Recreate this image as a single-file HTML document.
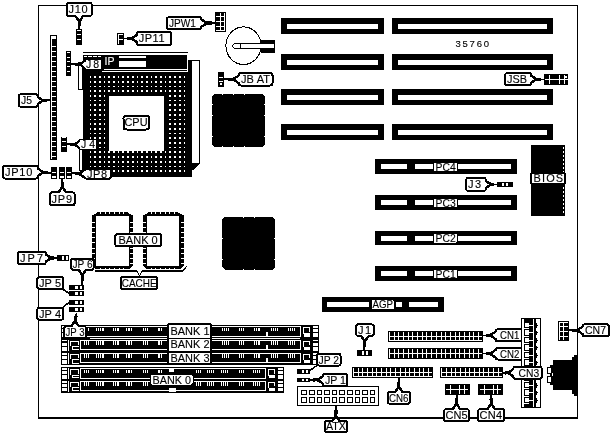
<!DOCTYPE html>
<html><head><meta charset="utf-8"><style>
html,body{margin:0;padding:0;background:#fff;}
svg{display:block;font-family:"Liberation Sans",sans-serif;filter:grayscale(100%);}
</style></head><body>
<svg width="611" height="436" viewBox="0 0 611 436" shape-rendering="crispEdges">
<rect x="0" y="0" width="611" height="436" fill="#fff"/>
<rect x="38" y="5" width="540" height="1" fill="#000"/>
<rect x="38" y="5" width="1" height="414" fill="#000"/>
<rect x="577" y="5" width="1" height="414" fill="#000"/>
<rect x="38" y="417" width="540" height="2" fill="#000"/>
<rect x="281" y="18" width="103" height="16" fill="#000"/>
<rect x="287" y="23.5" width="91" height="5" fill="#fff"/>
<rect x="392" y="18" width="161" height="16" fill="#000"/>
<rect x="398" y="23.5" width="149" height="5" fill="#fff"/>
<rect x="281" y="54" width="103" height="16" fill="#000"/>
<rect x="287" y="59.5" width="91" height="5" fill="#fff"/>
<rect x="392" y="54" width="161" height="16" fill="#000"/>
<rect x="398" y="59.5" width="149" height="5" fill="#fff"/>
<rect x="281" y="89" width="103" height="16" fill="#000"/>
<rect x="287" y="94.5" width="91" height="5" fill="#fff"/>
<rect x="392" y="89" width="161" height="16" fill="#000"/>
<rect x="398" y="94.5" width="149" height="5" fill="#fff"/>
<rect x="281" y="124" width="103" height="16" fill="#000"/>
<rect x="287" y="129.5" width="91" height="5" fill="#fff"/>
<rect x="392" y="124" width="161" height="16" fill="#000"/>
<rect x="398" y="129.5" width="149" height="5" fill="#fff"/>
<text x="455.5" y="47.2" font-size="9.5" fill="#000" stroke="#000" stroke-width="0.12" text-anchor="start" textLength="33.5" lengthAdjust="spacing">35760</text>
<rect x="83" y="52" width="105" height="1" fill="#000"/>
<rect x="83" y="54.5" width="104" height="17.5" fill="#000"/>
<rect x="83" y="72" width="109" height="105" fill="#000"/>
<rect x="188" y="60" width="4" height="12" fill="#000"/>
<rect x="89.5" y="76.2" width="1.7" height="1.7" fill="#fff"/>
<rect x="94.2" y="76.2" width="1.7" height="1.7" fill="#fff"/>
<rect x="98.9" y="76.2" width="1.7" height="1.7" fill="#fff"/>
<rect x="103.6" y="76.2" width="1.7" height="1.7" fill="#fff"/>
<rect x="108.2" y="76.2" width="1.7" height="1.7" fill="#fff"/>
<rect x="113.0" y="76.2" width="1.7" height="1.7" fill="#fff"/>
<rect x="117.7" y="76.2" width="1.7" height="1.7" fill="#fff"/>
<rect x="122.3" y="76.2" width="1.7" height="1.7" fill="#fff"/>
<rect x="127.1" y="76.2" width="1.7" height="1.7" fill="#fff"/>
<rect x="131.8" y="76.2" width="1.7" height="1.7" fill="#fff"/>
<rect x="136.5" y="76.2" width="1.7" height="1.7" fill="#fff"/>
<rect x="141.2" y="76.2" width="1.7" height="1.7" fill="#fff"/>
<rect x="145.8" y="76.2" width="1.7" height="1.7" fill="#fff"/>
<rect x="150.6" y="76.2" width="1.7" height="1.7" fill="#fff"/>
<rect x="155.2" y="76.2" width="1.7" height="1.7" fill="#fff"/>
<rect x="160.0" y="76.2" width="1.7" height="1.7" fill="#fff"/>
<rect x="164.7" y="76.2" width="1.7" height="1.7" fill="#fff"/>
<rect x="169.3" y="76.2" width="1.7" height="1.7" fill="#fff"/>
<rect x="174.1" y="76.2" width="1.7" height="1.7" fill="#fff"/>
<rect x="178.8" y="76.2" width="1.7" height="1.7" fill="#fff"/>
<rect x="183.5" y="76.2" width="1.7" height="1.7" fill="#fff"/>
<rect x="89.5" y="80.9" width="1.7" height="1.7" fill="#fff"/>
<rect x="94.2" y="80.9" width="1.7" height="1.7" fill="#fff"/>
<rect x="98.9" y="80.9" width="1.7" height="1.7" fill="#fff"/>
<rect x="103.6" y="80.9" width="1.7" height="1.7" fill="#fff"/>
<rect x="108.2" y="80.9" width="1.7" height="1.7" fill="#fff"/>
<rect x="113.0" y="80.9" width="1.7" height="1.7" fill="#fff"/>
<rect x="117.7" y="80.9" width="1.7" height="1.7" fill="#fff"/>
<rect x="122.3" y="80.9" width="1.7" height="1.7" fill="#fff"/>
<rect x="127.1" y="80.9" width="1.7" height="1.7" fill="#fff"/>
<rect x="131.8" y="80.9" width="1.7" height="1.7" fill="#fff"/>
<rect x="136.5" y="80.9" width="1.7" height="1.7" fill="#fff"/>
<rect x="141.2" y="80.9" width="1.7" height="1.7" fill="#fff"/>
<rect x="145.8" y="80.9" width="1.7" height="1.7" fill="#fff"/>
<rect x="150.6" y="80.9" width="1.7" height="1.7" fill="#fff"/>
<rect x="155.2" y="80.9" width="1.7" height="1.7" fill="#fff"/>
<rect x="160.0" y="80.9" width="1.7" height="1.7" fill="#fff"/>
<rect x="164.7" y="80.9" width="1.7" height="1.7" fill="#fff"/>
<rect x="169.3" y="80.9" width="1.7" height="1.7" fill="#fff"/>
<rect x="174.1" y="80.9" width="1.7" height="1.7" fill="#fff"/>
<rect x="178.8" y="80.9" width="1.7" height="1.7" fill="#fff"/>
<rect x="183.5" y="80.9" width="1.7" height="1.7" fill="#fff"/>
<rect x="89.5" y="85.6" width="1.7" height="1.7" fill="#fff"/>
<rect x="94.2" y="85.6" width="1.7" height="1.7" fill="#fff"/>
<rect x="98.9" y="85.6" width="1.7" height="1.7" fill="#fff"/>
<rect x="103.6" y="85.6" width="1.7" height="1.7" fill="#fff"/>
<rect x="108.2" y="85.6" width="1.7" height="1.7" fill="#fff"/>
<rect x="113.0" y="85.6" width="1.7" height="1.7" fill="#fff"/>
<rect x="117.7" y="85.6" width="1.7" height="1.7" fill="#fff"/>
<rect x="122.3" y="85.6" width="1.7" height="1.7" fill="#fff"/>
<rect x="127.1" y="85.6" width="1.7" height="1.7" fill="#fff"/>
<rect x="131.8" y="85.6" width="1.7" height="1.7" fill="#fff"/>
<rect x="136.5" y="85.6" width="1.7" height="1.7" fill="#fff"/>
<rect x="141.2" y="85.6" width="1.7" height="1.7" fill="#fff"/>
<rect x="145.8" y="85.6" width="1.7" height="1.7" fill="#fff"/>
<rect x="150.6" y="85.6" width="1.7" height="1.7" fill="#fff"/>
<rect x="155.2" y="85.6" width="1.7" height="1.7" fill="#fff"/>
<rect x="160.0" y="85.6" width="1.7" height="1.7" fill="#fff"/>
<rect x="164.7" y="85.6" width="1.7" height="1.7" fill="#fff"/>
<rect x="169.3" y="85.6" width="1.7" height="1.7" fill="#fff"/>
<rect x="174.1" y="85.6" width="1.7" height="1.7" fill="#fff"/>
<rect x="178.8" y="85.6" width="1.7" height="1.7" fill="#fff"/>
<rect x="183.5" y="85.6" width="1.7" height="1.7" fill="#fff"/>
<rect x="89.5" y="90.2" width="1.7" height="1.7" fill="#fff"/>
<rect x="94.2" y="90.2" width="1.7" height="1.7" fill="#fff"/>
<rect x="98.9" y="90.2" width="1.7" height="1.7" fill="#fff"/>
<rect x="103.6" y="90.2" width="1.7" height="1.7" fill="#fff"/>
<rect x="108.2" y="90.2" width="1.7" height="1.7" fill="#fff"/>
<rect x="113.0" y="90.2" width="1.7" height="1.7" fill="#fff"/>
<rect x="117.7" y="90.2" width="1.7" height="1.7" fill="#fff"/>
<rect x="122.3" y="90.2" width="1.7" height="1.7" fill="#fff"/>
<rect x="127.1" y="90.2" width="1.7" height="1.7" fill="#fff"/>
<rect x="131.8" y="90.2" width="1.7" height="1.7" fill="#fff"/>
<rect x="136.5" y="90.2" width="1.7" height="1.7" fill="#fff"/>
<rect x="141.2" y="90.2" width="1.7" height="1.7" fill="#fff"/>
<rect x="145.8" y="90.2" width="1.7" height="1.7" fill="#fff"/>
<rect x="150.6" y="90.2" width="1.7" height="1.7" fill="#fff"/>
<rect x="155.2" y="90.2" width="1.7" height="1.7" fill="#fff"/>
<rect x="160.0" y="90.2" width="1.7" height="1.7" fill="#fff"/>
<rect x="164.7" y="90.2" width="1.7" height="1.7" fill="#fff"/>
<rect x="169.3" y="90.2" width="1.7" height="1.7" fill="#fff"/>
<rect x="174.1" y="90.2" width="1.7" height="1.7" fill="#fff"/>
<rect x="178.8" y="90.2" width="1.7" height="1.7" fill="#fff"/>
<rect x="183.5" y="90.2" width="1.7" height="1.7" fill="#fff"/>
<rect x="89.5" y="95.0" width="1.7" height="1.7" fill="#fff"/>
<rect x="94.2" y="95.0" width="1.7" height="1.7" fill="#fff"/>
<rect x="98.9" y="95.0" width="1.7" height="1.7" fill="#fff"/>
<rect x="103.6" y="95.0" width="1.7" height="1.7" fill="#fff"/>
<rect x="169.3" y="95.0" width="1.7" height="1.7" fill="#fff"/>
<rect x="174.1" y="95.0" width="1.7" height="1.7" fill="#fff"/>
<rect x="178.8" y="95.0" width="1.7" height="1.7" fill="#fff"/>
<rect x="183.5" y="95.0" width="1.7" height="1.7" fill="#fff"/>
<rect x="89.5" y="99.7" width="1.7" height="1.7" fill="#fff"/>
<rect x="94.2" y="99.7" width="1.7" height="1.7" fill="#fff"/>
<rect x="98.9" y="99.7" width="1.7" height="1.7" fill="#fff"/>
<rect x="103.6" y="99.7" width="1.7" height="1.7" fill="#fff"/>
<rect x="169.3" y="99.7" width="1.7" height="1.7" fill="#fff"/>
<rect x="174.1" y="99.7" width="1.7" height="1.7" fill="#fff"/>
<rect x="178.8" y="99.7" width="1.7" height="1.7" fill="#fff"/>
<rect x="183.5" y="99.7" width="1.7" height="1.7" fill="#fff"/>
<rect x="89.5" y="104.4" width="1.7" height="1.7" fill="#fff"/>
<rect x="94.2" y="104.4" width="1.7" height="1.7" fill="#fff"/>
<rect x="98.9" y="104.4" width="1.7" height="1.7" fill="#fff"/>
<rect x="103.6" y="104.4" width="1.7" height="1.7" fill="#fff"/>
<rect x="169.3" y="104.4" width="1.7" height="1.7" fill="#fff"/>
<rect x="174.1" y="104.4" width="1.7" height="1.7" fill="#fff"/>
<rect x="178.8" y="104.4" width="1.7" height="1.7" fill="#fff"/>
<rect x="183.5" y="104.4" width="1.7" height="1.7" fill="#fff"/>
<rect x="89.5" y="109.1" width="1.7" height="1.7" fill="#fff"/>
<rect x="94.2" y="109.1" width="1.7" height="1.7" fill="#fff"/>
<rect x="98.9" y="109.1" width="1.7" height="1.7" fill="#fff"/>
<rect x="103.6" y="109.1" width="1.7" height="1.7" fill="#fff"/>
<rect x="169.3" y="109.1" width="1.7" height="1.7" fill="#fff"/>
<rect x="174.1" y="109.1" width="1.7" height="1.7" fill="#fff"/>
<rect x="178.8" y="109.1" width="1.7" height="1.7" fill="#fff"/>
<rect x="183.5" y="109.1" width="1.7" height="1.7" fill="#fff"/>
<rect x="89.5" y="113.8" width="1.7" height="1.7" fill="#fff"/>
<rect x="94.2" y="113.8" width="1.7" height="1.7" fill="#fff"/>
<rect x="98.9" y="113.8" width="1.7" height="1.7" fill="#fff"/>
<rect x="103.6" y="113.8" width="1.7" height="1.7" fill="#fff"/>
<rect x="169.3" y="113.8" width="1.7" height="1.7" fill="#fff"/>
<rect x="174.1" y="113.8" width="1.7" height="1.7" fill="#fff"/>
<rect x="178.8" y="113.8" width="1.7" height="1.7" fill="#fff"/>
<rect x="183.5" y="113.8" width="1.7" height="1.7" fill="#fff"/>
<rect x="89.5" y="118.5" width="1.7" height="1.7" fill="#fff"/>
<rect x="94.2" y="118.5" width="1.7" height="1.7" fill="#fff"/>
<rect x="98.9" y="118.5" width="1.7" height="1.7" fill="#fff"/>
<rect x="103.6" y="118.5" width="1.7" height="1.7" fill="#fff"/>
<rect x="169.3" y="118.5" width="1.7" height="1.7" fill="#fff"/>
<rect x="174.1" y="118.5" width="1.7" height="1.7" fill="#fff"/>
<rect x="178.8" y="118.5" width="1.7" height="1.7" fill="#fff"/>
<rect x="183.5" y="118.5" width="1.7" height="1.7" fill="#fff"/>
<rect x="89.5" y="123.2" width="1.7" height="1.7" fill="#fff"/>
<rect x="94.2" y="123.2" width="1.7" height="1.7" fill="#fff"/>
<rect x="98.9" y="123.2" width="1.7" height="1.7" fill="#fff"/>
<rect x="103.6" y="123.2" width="1.7" height="1.7" fill="#fff"/>
<rect x="169.3" y="123.2" width="1.7" height="1.7" fill="#fff"/>
<rect x="174.1" y="123.2" width="1.7" height="1.7" fill="#fff"/>
<rect x="178.8" y="123.2" width="1.7" height="1.7" fill="#fff"/>
<rect x="183.5" y="123.2" width="1.7" height="1.7" fill="#fff"/>
<rect x="89.5" y="127.8" width="1.7" height="1.7" fill="#fff"/>
<rect x="94.2" y="127.8" width="1.7" height="1.7" fill="#fff"/>
<rect x="98.9" y="127.8" width="1.7" height="1.7" fill="#fff"/>
<rect x="103.6" y="127.8" width="1.7" height="1.7" fill="#fff"/>
<rect x="169.3" y="127.8" width="1.7" height="1.7" fill="#fff"/>
<rect x="174.1" y="127.8" width="1.7" height="1.7" fill="#fff"/>
<rect x="178.8" y="127.8" width="1.7" height="1.7" fill="#fff"/>
<rect x="183.5" y="127.8" width="1.7" height="1.7" fill="#fff"/>
<rect x="89.5" y="132.6" width="1.7" height="1.7" fill="#fff"/>
<rect x="94.2" y="132.6" width="1.7" height="1.7" fill="#fff"/>
<rect x="98.9" y="132.6" width="1.7" height="1.7" fill="#fff"/>
<rect x="103.6" y="132.6" width="1.7" height="1.7" fill="#fff"/>
<rect x="169.3" y="132.6" width="1.7" height="1.7" fill="#fff"/>
<rect x="174.1" y="132.6" width="1.7" height="1.7" fill="#fff"/>
<rect x="178.8" y="132.6" width="1.7" height="1.7" fill="#fff"/>
<rect x="183.5" y="132.6" width="1.7" height="1.7" fill="#fff"/>
<rect x="89.5" y="137.2" width="1.7" height="1.7" fill="#fff"/>
<rect x="94.2" y="137.2" width="1.7" height="1.7" fill="#fff"/>
<rect x="98.9" y="137.2" width="1.7" height="1.7" fill="#fff"/>
<rect x="103.6" y="137.2" width="1.7" height="1.7" fill="#fff"/>
<rect x="169.3" y="137.2" width="1.7" height="1.7" fill="#fff"/>
<rect x="174.1" y="137.2" width="1.7" height="1.7" fill="#fff"/>
<rect x="178.8" y="137.2" width="1.7" height="1.7" fill="#fff"/>
<rect x="183.5" y="137.2" width="1.7" height="1.7" fill="#fff"/>
<rect x="89.5" y="142.0" width="1.7" height="1.7" fill="#fff"/>
<rect x="94.2" y="142.0" width="1.7" height="1.7" fill="#fff"/>
<rect x="98.9" y="142.0" width="1.7" height="1.7" fill="#fff"/>
<rect x="103.6" y="142.0" width="1.7" height="1.7" fill="#fff"/>
<rect x="169.3" y="142.0" width="1.7" height="1.7" fill="#fff"/>
<rect x="174.1" y="142.0" width="1.7" height="1.7" fill="#fff"/>
<rect x="178.8" y="142.0" width="1.7" height="1.7" fill="#fff"/>
<rect x="183.5" y="142.0" width="1.7" height="1.7" fill="#fff"/>
<rect x="89.5" y="146.7" width="1.7" height="1.7" fill="#fff"/>
<rect x="94.2" y="146.7" width="1.7" height="1.7" fill="#fff"/>
<rect x="98.9" y="146.7" width="1.7" height="1.7" fill="#fff"/>
<rect x="103.6" y="146.7" width="1.7" height="1.7" fill="#fff"/>
<rect x="169.3" y="146.7" width="1.7" height="1.7" fill="#fff"/>
<rect x="174.1" y="146.7" width="1.7" height="1.7" fill="#fff"/>
<rect x="178.8" y="146.7" width="1.7" height="1.7" fill="#fff"/>
<rect x="183.5" y="146.7" width="1.7" height="1.7" fill="#fff"/>
<rect x="89.5" y="151.3" width="1.7" height="1.7" fill="#fff"/>
<rect x="94.2" y="151.3" width="1.7" height="1.7" fill="#fff"/>
<rect x="98.9" y="151.3" width="1.7" height="1.7" fill="#fff"/>
<rect x="103.6" y="151.3" width="1.7" height="1.7" fill="#fff"/>
<rect x="108.2" y="151.3" width="1.7" height="1.7" fill="#fff"/>
<rect x="113.0" y="151.3" width="1.7" height="1.7" fill="#fff"/>
<rect x="117.7" y="151.3" width="1.7" height="1.7" fill="#fff"/>
<rect x="122.3" y="151.3" width="1.7" height="1.7" fill="#fff"/>
<rect x="127.1" y="151.3" width="1.7" height="1.7" fill="#fff"/>
<rect x="131.8" y="151.3" width="1.7" height="1.7" fill="#fff"/>
<rect x="136.5" y="151.3" width="1.7" height="1.7" fill="#fff"/>
<rect x="141.2" y="151.3" width="1.7" height="1.7" fill="#fff"/>
<rect x="145.8" y="151.3" width="1.7" height="1.7" fill="#fff"/>
<rect x="150.6" y="151.3" width="1.7" height="1.7" fill="#fff"/>
<rect x="155.2" y="151.3" width="1.7" height="1.7" fill="#fff"/>
<rect x="160.0" y="151.3" width="1.7" height="1.7" fill="#fff"/>
<rect x="164.7" y="151.3" width="1.7" height="1.7" fill="#fff"/>
<rect x="169.3" y="151.3" width="1.7" height="1.7" fill="#fff"/>
<rect x="174.1" y="151.3" width="1.7" height="1.7" fill="#fff"/>
<rect x="178.8" y="151.3" width="1.7" height="1.7" fill="#fff"/>
<rect x="183.5" y="151.3" width="1.7" height="1.7" fill="#fff"/>
<rect x="89.5" y="156.1" width="1.7" height="1.7" fill="#fff"/>
<rect x="94.2" y="156.1" width="1.7" height="1.7" fill="#fff"/>
<rect x="98.9" y="156.1" width="1.7" height="1.7" fill="#fff"/>
<rect x="103.6" y="156.1" width="1.7" height="1.7" fill="#fff"/>
<rect x="108.2" y="156.1" width="1.7" height="1.7" fill="#fff"/>
<rect x="113.0" y="156.1" width="1.7" height="1.7" fill="#fff"/>
<rect x="117.7" y="156.1" width="1.7" height="1.7" fill="#fff"/>
<rect x="122.3" y="156.1" width="1.7" height="1.7" fill="#fff"/>
<rect x="127.1" y="156.1" width="1.7" height="1.7" fill="#fff"/>
<rect x="131.8" y="156.1" width="1.7" height="1.7" fill="#fff"/>
<rect x="136.5" y="156.1" width="1.7" height="1.7" fill="#fff"/>
<rect x="141.2" y="156.1" width="1.7" height="1.7" fill="#fff"/>
<rect x="145.8" y="156.1" width="1.7" height="1.7" fill="#fff"/>
<rect x="150.6" y="156.1" width="1.7" height="1.7" fill="#fff"/>
<rect x="155.2" y="156.1" width="1.7" height="1.7" fill="#fff"/>
<rect x="160.0" y="156.1" width="1.7" height="1.7" fill="#fff"/>
<rect x="164.7" y="156.1" width="1.7" height="1.7" fill="#fff"/>
<rect x="169.3" y="156.1" width="1.7" height="1.7" fill="#fff"/>
<rect x="174.1" y="156.1" width="1.7" height="1.7" fill="#fff"/>
<rect x="178.8" y="156.1" width="1.7" height="1.7" fill="#fff"/>
<rect x="183.5" y="156.1" width="1.7" height="1.7" fill="#fff"/>
<rect x="89.5" y="160.8" width="1.7" height="1.7" fill="#fff"/>
<rect x="94.2" y="160.8" width="1.7" height="1.7" fill="#fff"/>
<rect x="98.9" y="160.8" width="1.7" height="1.7" fill="#fff"/>
<rect x="103.6" y="160.8" width="1.7" height="1.7" fill="#fff"/>
<rect x="108.2" y="160.8" width="1.7" height="1.7" fill="#fff"/>
<rect x="113.0" y="160.8" width="1.7" height="1.7" fill="#fff"/>
<rect x="117.7" y="160.8" width="1.7" height="1.7" fill="#fff"/>
<rect x="122.3" y="160.8" width="1.7" height="1.7" fill="#fff"/>
<rect x="127.1" y="160.8" width="1.7" height="1.7" fill="#fff"/>
<rect x="131.8" y="160.8" width="1.7" height="1.7" fill="#fff"/>
<rect x="136.5" y="160.8" width="1.7" height="1.7" fill="#fff"/>
<rect x="141.2" y="160.8" width="1.7" height="1.7" fill="#fff"/>
<rect x="145.8" y="160.8" width="1.7" height="1.7" fill="#fff"/>
<rect x="150.6" y="160.8" width="1.7" height="1.7" fill="#fff"/>
<rect x="155.2" y="160.8" width="1.7" height="1.7" fill="#fff"/>
<rect x="160.0" y="160.8" width="1.7" height="1.7" fill="#fff"/>
<rect x="164.7" y="160.8" width="1.7" height="1.7" fill="#fff"/>
<rect x="169.3" y="160.8" width="1.7" height="1.7" fill="#fff"/>
<rect x="174.1" y="160.8" width="1.7" height="1.7" fill="#fff"/>
<rect x="178.8" y="160.8" width="1.7" height="1.7" fill="#fff"/>
<rect x="183.5" y="160.8" width="1.7" height="1.7" fill="#fff"/>
<rect x="89.5" y="165.5" width="1.7" height="1.7" fill="#fff"/>
<rect x="94.2" y="165.5" width="1.7" height="1.7" fill="#fff"/>
<rect x="98.9" y="165.5" width="1.7" height="1.7" fill="#fff"/>
<rect x="103.6" y="165.5" width="1.7" height="1.7" fill="#fff"/>
<rect x="108.2" y="165.5" width="1.7" height="1.7" fill="#fff"/>
<rect x="113.0" y="165.5" width="1.7" height="1.7" fill="#fff"/>
<rect x="117.7" y="165.5" width="1.7" height="1.7" fill="#fff"/>
<rect x="122.3" y="165.5" width="1.7" height="1.7" fill="#fff"/>
<rect x="127.1" y="165.5" width="1.7" height="1.7" fill="#fff"/>
<rect x="131.8" y="165.5" width="1.7" height="1.7" fill="#fff"/>
<rect x="136.5" y="165.5" width="1.7" height="1.7" fill="#fff"/>
<rect x="141.2" y="165.5" width="1.7" height="1.7" fill="#fff"/>
<rect x="145.8" y="165.5" width="1.7" height="1.7" fill="#fff"/>
<rect x="150.6" y="165.5" width="1.7" height="1.7" fill="#fff"/>
<rect x="155.2" y="165.5" width="1.7" height="1.7" fill="#fff"/>
<rect x="160.0" y="165.5" width="1.7" height="1.7" fill="#fff"/>
<rect x="164.7" y="165.5" width="1.7" height="1.7" fill="#fff"/>
<rect x="169.3" y="165.5" width="1.7" height="1.7" fill="#fff"/>
<rect x="174.1" y="165.5" width="1.7" height="1.7" fill="#fff"/>
<rect x="178.8" y="165.5" width="1.7" height="1.7" fill="#fff"/>
<rect x="183.5" y="165.5" width="1.7" height="1.7" fill="#fff"/>
<rect x="89.5" y="170.2" width="1.7" height="1.7" fill="#fff"/>
<rect x="94.2" y="170.2" width="1.7" height="1.7" fill="#fff"/>
<rect x="98.9" y="170.2" width="1.7" height="1.7" fill="#fff"/>
<rect x="103.6" y="170.2" width="1.7" height="1.7" fill="#fff"/>
<rect x="108.2" y="170.2" width="1.7" height="1.7" fill="#fff"/>
<rect x="113.0" y="170.2" width="1.7" height="1.7" fill="#fff"/>
<rect x="117.7" y="170.2" width="1.7" height="1.7" fill="#fff"/>
<rect x="122.3" y="170.2" width="1.7" height="1.7" fill="#fff"/>
<rect x="127.1" y="170.2" width="1.7" height="1.7" fill="#fff"/>
<rect x="131.8" y="170.2" width="1.7" height="1.7" fill="#fff"/>
<rect x="136.5" y="170.2" width="1.7" height="1.7" fill="#fff"/>
<rect x="141.2" y="170.2" width="1.7" height="1.7" fill="#fff"/>
<rect x="145.8" y="170.2" width="1.7" height="1.7" fill="#fff"/>
<rect x="150.6" y="170.2" width="1.7" height="1.7" fill="#fff"/>
<rect x="155.2" y="170.2" width="1.7" height="1.7" fill="#fff"/>
<rect x="160.0" y="170.2" width="1.7" height="1.7" fill="#fff"/>
<rect x="164.7" y="170.2" width="1.7" height="1.7" fill="#fff"/>
<rect x="169.3" y="170.2" width="1.7" height="1.7" fill="#fff"/>
<rect x="174.1" y="170.2" width="1.7" height="1.7" fill="#fff"/>
<rect x="178.8" y="170.2" width="1.7" height="1.7" fill="#fff"/>
<rect x="183.5" y="170.2" width="1.7" height="1.7" fill="#fff"/>
<rect x="109" y="96" width="55" height="55" fill="#fff"/>
<rect x="104" y="69" width="83" height="1" fill="#fff"/>
<rect x="102" y="71" width="85" height="1" fill="#fff"/>
<rect x="119" y="56" width="27" height="2" fill="#fff"/>
<rect x="119" y="60.5" width="27" height="6" fill="#fff"/>
<text x="104.5" y="64.5" font-size="11" fill="#fff" stroke="#fff" stroke-width="0.12" text-anchor="start" textLength="10" lengthAdjust="spacingAndGlyphs">IP</text>
<rect x="84" y="56" width="17" height="1" fill="#fff"/>
<rect x="87" y="55" width="1" height="2.5" fill="#000"/>
<rect x="92" y="55" width="1" height="2.5" fill="#000"/>
<rect x="97" y="55" width="1" height="2.5" fill="#000"/>
<path d="M191,60 H199.5 V164 L194,169.5 H191 Z" fill="#000"/>
<path d="M192,61 H198.5 V163 H192 Z" fill="#fff"/>
<rect x="78" y="62" width="4.6" height="27.5" fill="#000"/>
<rect x="79" y="63" width="2.6" height="25.5" fill="#fff"/>
<rect x="78.8" y="146" width="3.8" height="24.5" fill="#000"/>
<rect x="79.8" y="147" width="2" height="22.5" fill="#fff"/>
<rect x="123.5" y="115.5" width="25.5" height="14" rx="3" fill="#fff" stroke="#000" stroke-width="2"/>
<text x="124.5" y="126.4" font-size="11" fill="#000" stroke="#000" stroke-width="0.12" text-anchor="start" textLength="23" lengthAdjust="spacingAndGlyphs">CPU</text>
<rect x="76" y="29" width="6" height="15.5" fill="#000"/>
<rect x="77" y="29.6" width="4" height="1.4" fill="#fff"/>
<rect x="77" y="33.6" width="4" height="1.4" fill="#fff"/>
<rect x="77" y="39" width="4" height="1.4" fill="#fff"/>
<rect x="50" y="35" width="7" height="125" fill="#000"/>
<rect x="51" y="36" width="1" height="123" fill="#fff"/>
<rect x="52" y="36" width="4" height="2.5" fill="#fff"/>
<rect x="51.8" y="46.2" width="4.2" height="1" fill="#fff"/>
<rect x="51.8" y="51.2" width="4.2" height="1" fill="#fff"/>
<rect x="51.8" y="56.2" width="4.2" height="1" fill="#fff"/>
<rect x="51.8" y="61.2" width="4.2" height="1" fill="#fff"/>
<rect x="51.8" y="66.2" width="4.2" height="1" fill="#fff"/>
<rect x="51.8" y="71.2" width="4.2" height="1" fill="#fff"/>
<rect x="51.8" y="76.2" width="4.2" height="1" fill="#fff"/>
<rect x="51.8" y="81.2" width="4.2" height="1" fill="#fff"/>
<rect x="51.8" y="86.2" width="4.2" height="1" fill="#fff"/>
<rect x="51.8" y="91.2" width="4.2" height="1" fill="#fff"/>
<rect x="51.8" y="96.2" width="4.2" height="1" fill="#fff"/>
<rect x="51.8" y="101.2" width="4.2" height="1" fill="#fff"/>
<rect x="51.8" y="106.2" width="4.2" height="1" fill="#fff"/>
<rect x="51.8" y="111.2" width="4.2" height="1" fill="#fff"/>
<rect x="51.8" y="116.2" width="4.2" height="1" fill="#fff"/>
<rect x="51.8" y="121.2" width="4.2" height="1" fill="#fff"/>
<rect x="51.8" y="126.2" width="4.2" height="1" fill="#fff"/>
<rect x="51.8" y="131.2" width="4.2" height="1" fill="#fff"/>
<rect x="51.8" y="136.2" width="4.2" height="1" fill="#fff"/>
<rect x="51.8" y="141.2" width="4.2" height="1" fill="#fff"/>
<rect x="51.8" y="146.2" width="4.2" height="1" fill="#fff"/>
<rect x="51.8" y="151.2" width="4.2" height="1" fill="#fff"/>
<rect x="51.8" y="156.2" width="4.2" height="1" fill="#fff"/>
<rect x="66" y="51" width="5" height="25" fill="#000"/>
<rect x="67" y="52" width="3" height="1" fill="#fff"/>
<rect x="67" y="56.65" width="3" height="1" fill="#fff"/>
<rect x="67" y="61.3" width="3" height="1" fill="#fff"/>
<rect x="67" y="65.95" width="3" height="1" fill="#fff"/>
<rect x="67" y="70.6" width="3" height="1" fill="#fff"/>
<rect x="61" y="136.5" width="6" height="15" fill="#000"/>
<rect x="62" y="137" width="4" height="1" fill="#fff"/>
<rect x="62" y="141.3" width="4" height="1" fill="#fff"/>
<rect x="62" y="146.3" width="4" height="1" fill="#fff"/>
<line x1="79.25" y1="21.2" x2="79" y2="29" stroke="#000" stroke-width="1.7"/>
<line x1="79.27" y1="20.7" x2="79.1" y2="25.88" stroke="#000" stroke-width="3.2"/>
<path d="M74.25,16.2 L77.65,21.7 L80.85,21.7 L84.25,16.2 Z" fill="#000"/>
<rect x="66.5" y="2.7" width="25.5" height="13.5" rx="3" fill="#fff" stroke="#000" stroke-width="2"/>
<path d="M76.25,15.2 L79.25,19.4 L82.25,15.2 Z" fill="#fff"/>
<text x="68.6" y="13.35" font-size="11" fill="#000" stroke="#000" stroke-width="0.12" text-anchor="start" textLength="18.9" lengthAdjust="spacing">J10</text>
<line x1="42.5" y1="100.55" x2="50" y2="100.2" stroke="#000" stroke-width="1.7"/>
<line x1="42" y1="100.57" x2="47" y2="100.34" stroke="#000" stroke-width="3.2"/>
<path d="M37.5,105.55 L43,102.15 L43,98.95 L37.5,95.55 Z" fill="#000"/>
<rect x="19" y="94.3" width="18.5" height="12.5" rx="2" fill="#fff" stroke="#000" stroke-width="2"/>
<path d="M36.5,103.55 L40.7,100.55 L36.5,97.55 Z" fill="#fff"/>
<text x="21" y="104.45" font-size="11" fill="#000" stroke="#000" stroke-width="0.12" text-anchor="start" textLength="11" lengthAdjust="spacingAndGlyphs">J5</text>
<rect x="84" y="59" width="18" height="11" fill="#fff"/>
<rect x="84" y="59" width="1" height="11" fill="#000"/>
<line x1="80.5" y1="64.5" x2="71" y2="64" stroke="#000" stroke-width="1.7"/>
<line x1="81" y1="64.53" x2="74.8" y2="64.2" stroke="#000" stroke-width="3.2"/>
<path d="M85.5,59.5 L80,62.9 L80,66.1 L85.5,69.5 Z" fill="#000"/>
<rect x="85" y="59.5" width="16.5" height="10" rx="1" fill="#fff" stroke="#000" stroke-width="1"/>
<path d="M85.5,61.5 L82.3,64.5 L85.5,67.5 Z" fill="#fff"/>
<text x="86" y="68.4" font-size="10.5" fill="#000" stroke="#000" stroke-width="0.12" text-anchor="start" textLength="13" lengthAdjust="spacing">J8</text>
<line x1="75" y1="144.5" x2="67" y2="144" stroke="#000" stroke-width="1.7"/>
<line x1="75.5" y1="144.53" x2="70.2" y2="144.2" stroke="#000" stroke-width="3.2"/>
<path d="M80,139.5 L74.5,142.9 L74.5,146.1 L80,149.5 Z" fill="#000"/>
<rect x="79.5" y="139.5" width="17" height="10" rx="1" fill="#fff" stroke="#000" stroke-width="1"/>
<path d="M80,141.5 L76.8,144.5 L80,147.5 Z" fill="#fff"/>
<text x="81" y="148.4" font-size="10.5" fill="#000" stroke="#000" stroke-width="0.12" text-anchor="start" textLength="14" lengthAdjust="spacing">J4</text>
<rect x="117" y="33" width="7" height="11.7" fill="#000"/>
<rect x="118" y="34" width="1" height="9.6" fill="#fff"/>
<rect x="118" y="34" width="4.8" height="1" fill="#fff"/>
<rect x="119" y="39" width="3.8" height="1" fill="#fff"/>
<line x1="132" y1="38.45" x2="124" y2="38.5" stroke="#000" stroke-width="1.7"/>
<line x1="132.5" y1="38.45" x2="127.2" y2="38.48" stroke="#000" stroke-width="3.2"/>
<path d="M137,33.45 L131.5,36.85 L131.5,40.05 L137,43.45 Z" fill="#000"/>
<rect x="137" y="32.1" width="33.8" height="12.7" rx="1" fill="#fff" stroke="#000" stroke-width="2"/>
<path d="M138,35.45 L133.8,38.45 L138,41.45 Z" fill="#fff"/>
<text x="138.8" y="42.35" font-size="11" fill="#000" stroke="#000" stroke-width="0.12" text-anchor="start" textLength="25.7" lengthAdjust="spacing">JP11</text>
<rect x="215" y="12" width="11" height="19.8" fill="#000"/>
<rect x="220" y="13" width="1" height="18" fill="#fff"/>
<rect x="224" y="13" width="1" height="18" fill="#fff"/>
<rect x="216" y="16" width="9" height="0.8" fill="#fff"/>
<rect x="216" y="21.2" width="9" height="0.8" fill="#fff"/>
<rect x="216" y="26.3" width="9" height="0.8" fill="#fff"/>
<rect x="216" y="30.2" width="9" height="0.8" fill="#fff"/>
<line x1="206.4" y1="23.1" x2="215" y2="23" stroke="#000" stroke-width="1.7"/>
<line x1="205.9" y1="23.11" x2="211.56" y2="23.04" stroke="#000" stroke-width="3.2"/>
<path d="M201.4,28.1 L206.9,24.7 L206.9,21.5 L201.4,18.1 Z" fill="#000"/>
<rect x="167.2" y="17.4" width="34.2" height="11.4" rx="1" fill="#fff" stroke="#000" stroke-width="2"/>
<path d="M200.4,26.1 L204.6,23.1 L200.4,20.1 Z" fill="#fff"/>
<text x="169" y="27" font-size="11" fill="#000" stroke="#000" stroke-width="0.12" text-anchor="start" textLength="27" lengthAdjust="spacingAndGlyphs">JPW1</text>
<rect x="218" y="72" width="6" height="14.8" fill="#000"/>
<rect x="219" y="77" width="4" height="1" fill="#fff"/>
<rect x="219" y="81" width="4" height="1" fill="#fff"/>
<rect x="220" y="83" width="2" height="1.6" fill="#fff"/>
<line x1="233.5" y1="79.3" x2="224" y2="79" stroke="#000" stroke-width="1.7"/>
<line x1="234" y1="79.32" x2="227.8" y2="79.12" stroke="#000" stroke-width="3.2"/>
<path d="M238.5,74.3 L233,77.7 L233,80.9 L238.5,84.3 Z" fill="#000"/>
<rect x="238.5" y="73" width="34.1" height="12.6" rx="3" fill="#fff" stroke="#000" stroke-width="2"/>
<path d="M239.5,76.3 L235.3,79.3 L239.5,82.3 Z" fill="#fff"/>
<text x="241" y="83.2" font-size="11" fill="#000" stroke="#000" stroke-width="0.12" text-anchor="start" textLength="29" lengthAdjust="spacing">JB AT</text>
<ellipse cx="243.5" cy="45.7" rx="17.6" ry="18.8" fill="none" stroke="#000" stroke-width="1"/>
<path d="M261,40 H274.7 V53.1 H261 Z" fill="#000"/>
<path d="M274,43.6 H236 Q232.6,43.6 232.6,46 Q232.6,48.4 236,48.4 H274 Z" fill="#fff" stroke="#000" stroke-width="1"/>
<line x1="240.2" y1="43.6" x2="240.2" y2="48.4" stroke="#000" stroke-width="1"/>
<path d="M214.7,93.6 H262.4 L265.4,96.6 V144 L262.4,147 H214.7 L211.7,144 V96.6 Z" fill="#000"/>
<rect x="222.44" y="93.6" width="0.6" height="1" fill="#fff"/>
<rect x="222.44" y="146" width="0.6" height="1" fill="#fff"/>
<rect x="211.7" y="104.28" width="1" height="0.6" fill="#fff"/>
<rect x="264.4" y="104.28" width="1" height="0.6" fill="#fff"/>
<rect x="233.18" y="93.6" width="0.6" height="1" fill="#fff"/>
<rect x="233.18" y="146" width="0.6" height="1" fill="#fff"/>
<rect x="211.7" y="114.96" width="1" height="0.6" fill="#fff"/>
<rect x="264.4" y="114.96" width="1" height="0.6" fill="#fff"/>
<rect x="243.92" y="93.6" width="0.6" height="1" fill="#fff"/>
<rect x="243.92" y="146" width="0.6" height="1" fill="#fff"/>
<rect x="211.7" y="125.64" width="1" height="0.6" fill="#fff"/>
<rect x="264.4" y="125.64" width="1" height="0.6" fill="#fff"/>
<rect x="254.66" y="93.6" width="0.6" height="1" fill="#fff"/>
<rect x="254.66" y="146" width="0.6" height="1" fill="#fff"/>
<rect x="211.7" y="136.32" width="1" height="0.6" fill="#fff"/>
<rect x="264.4" y="136.32" width="1" height="0.6" fill="#fff"/>
<path d="M225,216.9 H272.2 L275.2,219.9 V267 L272.2,270 H225 L222,267 V219.9 Z" fill="#000"/>
<rect x="232.64" y="216.9" width="0.6" height="1" fill="#fff"/>
<rect x="232.64" y="269" width="0.6" height="1" fill="#fff"/>
<rect x="222" y="227.52" width="1" height="0.6" fill="#fff"/>
<rect x="274.2" y="227.52" width="1" height="0.6" fill="#fff"/>
<rect x="243.28" y="216.9" width="0.6" height="1" fill="#fff"/>
<rect x="243.28" y="269" width="0.6" height="1" fill="#fff"/>
<rect x="222" y="238.14" width="1" height="0.6" fill="#fff"/>
<rect x="274.2" y="238.14" width="1" height="0.6" fill="#fff"/>
<rect x="253.92" y="216.9" width="0.6" height="1" fill="#fff"/>
<rect x="253.92" y="269" width="0.6" height="1" fill="#fff"/>
<rect x="222" y="248.76" width="1" height="0.6" fill="#fff"/>
<rect x="274.2" y="248.76" width="1" height="0.6" fill="#fff"/>
<rect x="264.56" y="216.9" width="0.6" height="1" fill="#fff"/>
<rect x="264.56" y="269" width="0.6" height="1" fill="#fff"/>
<rect x="222" y="259.38" width="1" height="0.6" fill="#fff"/>
<rect x="274.2" y="259.38" width="1" height="0.6" fill="#fff"/>
<rect x="544.2" y="74.1" width="23.9" height="10.5" fill="#000"/>
<rect x="545" y="79" width="22.5" height="1" fill="#fff"/>
<rect x="549" y="75.4" width="1" height="8.3" fill="#fff"/>
<rect x="559" y="75.4" width="1" height="8.3" fill="#fff"/>
<rect x="563.8" y="75.4" width="1" height="8.3" fill="#fff"/>
<rect x="565" y="76" width="2" height="2" fill="#fff"/>
<line x1="535.9" y1="79.25" x2="544" y2="79.5" stroke="#000" stroke-width="1.7"/>
<line x1="535.4" y1="79.23" x2="540.76" y2="79.4" stroke="#000" stroke-width="3.2"/>
<path d="M530.9,84.25 L536.4,80.85 L536.4,77.65 L530.9,74.25 Z" fill="#000"/>
<rect x="505.4" y="73.3" width="25.5" height="11.9" rx="1" fill="#fff" stroke="#000" stroke-width="2"/>
<path d="M529.9,82.25 L534.1,79.25 L529.9,76.25 Z" fill="#fff"/>
<text x="507" y="83.15" font-size="11" fill="#000" stroke="#000" stroke-width="0.12" text-anchor="start" textLength="20" lengthAdjust="spacingAndGlyphs">JSB</text>
<rect x="375" y="159" width="142" height="14.6" fill="#000"/>
<rect x="380.8" y="164" width="26.2" height="5" fill="#fff"/>
<rect x="415" y="164" width="19" height="5" fill="#fff"/>
<rect x="458" y="164" width="53" height="5" fill="#fff"/>
<rect x="433.9" y="162" width="23.2" height="9.7" rx="1" fill="#fff" stroke="#000" stroke-width="1"/>
<text x="435.5" y="170.95" font-size="11.5" fill="#000" stroke="#000" stroke-width="0.12" text-anchor="start" textLength="20.2" lengthAdjust="spacingAndGlyphs">PC4</text>
<rect x="375" y="195" width="142" height="14.6" fill="#000"/>
<rect x="380.8" y="200" width="26.2" height="5" fill="#fff"/>
<rect x="415" y="200" width="19" height="5" fill="#fff"/>
<rect x="458" y="200" width="53" height="5" fill="#fff"/>
<rect x="433.9" y="198" width="23.2" height="9.7" rx="1" fill="#fff" stroke="#000" stroke-width="1"/>
<text x="435.5" y="206.95" font-size="11.5" fill="#000" stroke="#000" stroke-width="0.12" text-anchor="start" textLength="20.2" lengthAdjust="spacingAndGlyphs">PC3</text>
<rect x="375" y="230.5" width="142" height="14.6" fill="#000"/>
<rect x="380.8" y="235.5" width="26.2" height="5" fill="#fff"/>
<rect x="415" y="235.5" width="19" height="5" fill="#fff"/>
<rect x="458" y="235.5" width="53" height="5" fill="#fff"/>
<rect x="433.9" y="233.5" width="23.2" height="9.7" rx="1" fill="#fff" stroke="#000" stroke-width="1"/>
<text x="435.5" y="242.45" font-size="11.5" fill="#000" stroke="#000" stroke-width="0.12" text-anchor="start" textLength="20.2" lengthAdjust="spacingAndGlyphs">PC2</text>
<rect x="375" y="266" width="142" height="14.6" fill="#000"/>
<rect x="380.8" y="271" width="26.2" height="5" fill="#fff"/>
<rect x="415" y="271" width="19" height="5" fill="#fff"/>
<rect x="458" y="271" width="53" height="5" fill="#fff"/>
<rect x="433.9" y="269" width="23.2" height="9.7" rx="1" fill="#fff" stroke="#000" stroke-width="1"/>
<text x="435.5" y="277.95" font-size="11.5" fill="#000" stroke="#000" stroke-width="0.12" text-anchor="start" textLength="20.2" lengthAdjust="spacingAndGlyphs">PC1</text>
<rect x="497.2" y="182" width="15.6" height="5.4" fill="#000"/>
<rect x="502" y="183" width="2" height="3.4" fill="#fff"/>
<rect x="506" y="183" width="2" height="3.4" fill="#fff"/>
<line x1="490.6" y1="184.45" x2="497" y2="184.5" stroke="#000" stroke-width="1.7"/>
<line x1="490.1" y1="184.45" x2="494.44" y2="184.48" stroke="#000" stroke-width="3.2"/>
<path d="M485.6,189.45 L491.1,186.05 L491.1,182.85 L485.6,179.45 Z" fill="#000"/>
<rect x="466.3" y="178.2" width="19.3" height="12.5" rx="1" fill="#fff" stroke="#000" stroke-width="2"/>
<path d="M484.6,187.45 L488.8,184.45 L484.6,181.45 Z" fill="#fff"/>
<text x="468" y="188.35" font-size="11" fill="#000" stroke="#000" stroke-width="0.12" text-anchor="start" textLength="13" lengthAdjust="spacing">J3</text>
<rect x="531.3" y="145.3" width="33.6" height="70.4" fill="#000"/>
<rect x="562.5" y="147" width="1" height="2" fill="#fff"/>
<rect x="562.5" y="151" width="1" height="2" fill="#fff"/>
<rect x="562.5" y="155" width="1" height="2" fill="#fff"/>
<rect x="562.5" y="159" width="1" height="2" fill="#fff"/>
<rect x="562.5" y="163" width="1" height="2" fill="#fff"/>
<rect x="562.5" y="167" width="1" height="2" fill="#fff"/>
<rect x="562.5" y="171" width="1" height="2" fill="#fff"/>
<rect x="562.5" y="175" width="1" height="2" fill="#fff"/>
<rect x="562.5" y="179" width="1" height="2" fill="#fff"/>
<rect x="562.5" y="183" width="1" height="2" fill="#fff"/>
<rect x="562.5" y="187" width="1" height="2" fill="#fff"/>
<rect x="562.5" y="191" width="1" height="2" fill="#fff"/>
<rect x="562.5" y="195" width="1" height="2" fill="#fff"/>
<rect x="562.5" y="199" width="1" height="2" fill="#fff"/>
<rect x="562.5" y="203" width="1" height="2" fill="#fff"/>
<rect x="562.5" y="207" width="1" height="2" fill="#fff"/>
<rect x="562.5" y="211" width="1" height="2" fill="#fff"/>
<rect x="531.2" y="172.5" width="33.5" height="11.8" rx="1" fill="#fff" stroke="#000" stroke-width="2"/>
<text x="533.4" y="182.3" font-size="11" fill="#000" stroke="#000" stroke-width="0.12" text-anchor="start" textLength="29.8" lengthAdjust="spacing">BIOS</text>
<path d="M97.9,211.9 H127.0 L129.5,213.9 L133,215.4 V265.6 L129.5,269.1 H95.4 L91.9,265.6 V215.4 L95.4,213.9 Z" fill="#000"/>
<rect x="99.9" y="211.9" width="1" height="1.6" fill="#fff"/>
<rect x="99.9" y="268.1" width="1" height="1" fill="#fff"/>
<rect x="104.6" y="211.9" width="1" height="1.6" fill="#fff"/>
<rect x="104.6" y="268.1" width="1" height="1" fill="#fff"/>
<rect x="109.3" y="211.9" width="1" height="1.6" fill="#fff"/>
<rect x="109.3" y="268.1" width="1" height="1" fill="#fff"/>
<rect x="114" y="211.9" width="1" height="1.6" fill="#fff"/>
<rect x="114" y="268.1" width="1" height="1" fill="#fff"/>
<rect x="118.7" y="211.9" width="1" height="1.6" fill="#fff"/>
<rect x="118.7" y="268.1" width="1" height="1" fill="#fff"/>
<rect x="123.4" y="211.9" width="1" height="1.6" fill="#fff"/>
<rect x="123.4" y="268.1" width="1" height="1" fill="#fff"/>
<rect x="91.9" y="221.6" width="3" height="1" fill="#fff"/>
<rect x="130" y="221.6" width="3" height="1" fill="#fff"/>
<rect x="91.9" y="226.8" width="3" height="1" fill="#fff"/>
<rect x="130" y="226.8" width="3" height="1" fill="#fff"/>
<rect x="91.9" y="232" width="3" height="1" fill="#fff"/>
<rect x="130" y="232" width="3" height="1" fill="#fff"/>
<rect x="91.9" y="237.2" width="3" height="1" fill="#fff"/>
<rect x="130" y="237.2" width="3" height="1" fill="#fff"/>
<rect x="91.9" y="242.4" width="3" height="1" fill="#fff"/>
<rect x="130" y="242.4" width="3" height="1" fill="#fff"/>
<rect x="91.9" y="247.6" width="3" height="1" fill="#fff"/>
<rect x="130" y="247.6" width="3" height="1" fill="#fff"/>
<rect x="91.9" y="252.8" width="3" height="1" fill="#fff"/>
<rect x="130" y="252.8" width="3" height="1" fill="#fff"/>
<rect x="91.9" y="258" width="3" height="1" fill="#fff"/>
<rect x="130" y="258" width="3" height="1" fill="#fff"/>
<rect x="91.9" y="263.2" width="3" height="1" fill="#fff"/>
<rect x="130" y="263.2" width="3" height="1" fill="#fff"/>
<rect x="96.4" y="216.1" width="32.1" height="49.5" fill="#fff"/>
<path d="M148.6,211.9 H177.7 L180.2,213.9 L183.7,215.4 V265.6 L180.2,269.1 H146.1 L142.6,265.6 V215.4 L146.1,213.9 Z" fill="#000"/>
<rect x="150.6" y="211.9" width="1" height="1.6" fill="#fff"/>
<rect x="150.6" y="268.1" width="1" height="1" fill="#fff"/>
<rect x="155.3" y="211.9" width="1" height="1.6" fill="#fff"/>
<rect x="155.3" y="268.1" width="1" height="1" fill="#fff"/>
<rect x="160" y="211.9" width="1" height="1.6" fill="#fff"/>
<rect x="160" y="268.1" width="1" height="1" fill="#fff"/>
<rect x="164.7" y="211.9" width="1" height="1.6" fill="#fff"/>
<rect x="164.7" y="268.1" width="1" height="1" fill="#fff"/>
<rect x="169.4" y="211.9" width="1" height="1.6" fill="#fff"/>
<rect x="169.4" y="268.1" width="1" height="1" fill="#fff"/>
<rect x="174.1" y="211.9" width="1" height="1.6" fill="#fff"/>
<rect x="174.1" y="268.1" width="1" height="1" fill="#fff"/>
<rect x="142.6" y="221.6" width="3" height="1" fill="#fff"/>
<rect x="180.7" y="221.6" width="3" height="1" fill="#fff"/>
<rect x="142.6" y="226.8" width="3" height="1" fill="#fff"/>
<rect x="180.7" y="226.8" width="3" height="1" fill="#fff"/>
<rect x="142.6" y="232" width="3" height="1" fill="#fff"/>
<rect x="180.7" y="232" width="3" height="1" fill="#fff"/>
<rect x="142.6" y="237.2" width="3" height="1" fill="#fff"/>
<rect x="180.7" y="237.2" width="3" height="1" fill="#fff"/>
<rect x="142.6" y="242.4" width="3" height="1" fill="#fff"/>
<rect x="180.7" y="242.4" width="3" height="1" fill="#fff"/>
<rect x="142.6" y="247.6" width="3" height="1" fill="#fff"/>
<rect x="180.7" y="247.6" width="3" height="1" fill="#fff"/>
<rect x="142.6" y="252.8" width="3" height="1" fill="#fff"/>
<rect x="180.7" y="252.8" width="3" height="1" fill="#fff"/>
<rect x="142.6" y="258" width="3" height="1" fill="#fff"/>
<rect x="180.7" y="258" width="3" height="1" fill="#fff"/>
<rect x="142.6" y="263.2" width="3" height="1" fill="#fff"/>
<rect x="180.7" y="263.2" width="3" height="1" fill="#fff"/>
<rect x="147.1" y="216.1" width="32.1" height="49.5" fill="#fff"/>
<rect x="115.4" y="234.1" width="45.6" height="12.3" rx="2" fill="#fff" stroke="#000" stroke-width="2"/>
<text x="118.5" y="244.15" font-size="11" fill="#000" stroke="#000" stroke-width="0.12" text-anchor="start" textLength="39.2" lengthAdjust="spacing">BANK 0</text>
<path d="M95,271 H137 L139.5,276 L142,271 H183 L186.5,266.5" fill="none" stroke="#000" stroke-width="1.2"/>
<rect x="120.5" y="276.7" width="36.9" height="12.6" rx="3" fill="#fff" stroke="#000" stroke-width="2"/>
<text x="121.7" y="286.9" font-size="11" fill="#000" stroke="#000" stroke-width="0.12" text-anchor="start" textLength="34.9" lengthAdjust="spacingAndGlyphs">CACHE</text>
<rect x="51.3" y="167.2" width="5.6" height="11.6" fill="#000"/>
<rect x="52.3" y="171.8" width="3.6" height="1.2" fill="#fff"/>
<rect x="52.3" y="176.4" width="3.6" height="1.2" fill="#fff"/>
<rect x="59" y="167.2" width="5.6" height="11.6" fill="#000"/>
<rect x="60" y="171.8" width="3.6" height="1.2" fill="#fff"/>
<rect x="60" y="176.4" width="3.6" height="1.2" fill="#fff"/>
<rect x="66.4" y="167.2" width="5.6" height="11.6" fill="#000"/>
<rect x="67.4" y="171.8" width="3.6" height="1.2" fill="#fff"/>
<rect x="67.4" y="176.4" width="3.6" height="1.2" fill="#fff"/>
<line x1="42.8" y1="172.25" x2="51.3" y2="173" stroke="#000" stroke-width="1.7"/>
<line x1="42.3" y1="172.21" x2="47.9" y2="172.7" stroke="#000" stroke-width="3.2"/>
<path d="M37.8,177.25 L43.3,173.85 L43.3,170.65 L37.8,167.25 Z" fill="#000"/>
<rect x="3.2" y="165.9" width="34.6" height="12.7" rx="2" fill="#fff" stroke="#000" stroke-width="2"/>
<path d="M36.8,175.25 L41,172.25 L36.8,169.25 Z" fill="#fff"/>
<text x="4.9" y="176.15" font-size="11" fill="#000" stroke="#000" stroke-width="0.12" text-anchor="start" textLength="27.5" lengthAdjust="spacing">JP10</text>
<line x1="79.5" y1="173.75" x2="72" y2="173" stroke="#000" stroke-width="1.7"/>
<line x1="80" y1="173.8" x2="75" y2="173.3" stroke="#000" stroke-width="3.2"/>
<path d="M84.5,168.75 L79,172.15 L79,175.35 L84.5,178.75 Z" fill="#000"/>
<rect x="84.5" y="168.9" width="26.5" height="9.7" rx="2" fill="#fff" stroke="#000" stroke-width="2"/>
<path d="M85.5,170.75 L81.3,173.75 L85.5,176.75 Z" fill="#fff"/>
<text x="87" y="177.65" font-size="11" fill="#000" stroke="#000" stroke-width="0.12" text-anchor="start" textLength="20" lengthAdjust="spacing">JP8</text>
<line x1="62.3" y1="187.4" x2="62" y2="179" stroke="#000" stroke-width="1.7"/>
<line x1="62.32" y1="187.9" x2="62.12" y2="182.36" stroke="#000" stroke-width="3.2"/>
<path d="M67.3,192.4 L63.9,186.9 L60.7,186.9 L57.3,192.4 Z" fill="#000"/>
<rect x="50" y="192.4" width="24.6" height="12.8" rx="2" fill="#fff" stroke="#000" stroke-width="2"/>
<path d="M65.3,193.4 L62.3,189.2 L59.3,193.4 Z" fill="#fff"/>
<text x="51.5" y="202.7" font-size="11" fill="#000" stroke="#000" stroke-width="0.12" text-anchor="start" textLength="20.5" lengthAdjust="spacing">JP9</text>
<rect x="57" y="255.3" width="11.5" height="5.7" fill="#000"/>
<rect x="62" y="256.3" width="2" height="3.7" fill="#fff"/>
<rect x="65.5" y="256.3" width="2" height="3.7" fill="#fff"/>
<line x1="50.7" y1="257.95" x2="57" y2="258" stroke="#000" stroke-width="1.7"/>
<line x1="50.2" y1="257.95" x2="54.48" y2="257.98" stroke="#000" stroke-width="3.2"/>
<path d="M45.7,262.95 L51.2,259.55 L51.2,256.35 L45.7,252.95 Z" fill="#000"/>
<rect x="18.3" y="251.7" width="27.4" height="12.5" rx="2" fill="#fff" stroke="#000" stroke-width="2"/>
<path d="M44.7,260.95 L48.9,257.95 L44.7,254.95 Z" fill="#fff"/>
<text x="20" y="261.85" font-size="11" fill="#000" stroke="#000" stroke-width="0.12" text-anchor="start" textLength="23" lengthAdjust="spacing">JP7</text>
<line x1="82.3" y1="274.7" x2="82.3" y2="284.5" stroke="#000" stroke-width="1.7"/>
<line x1="82.3" y1="274.2" x2="82.3" y2="280.58" stroke="#000" stroke-width="3.2"/>
<path d="M77.3,269.7 L80.7,275.2 L83.9,275.2 L87.3,269.7 Z" fill="#000"/>
<rect x="71.1" y="258.6" width="22.4" height="11.1" rx="2" fill="#fff" stroke="#000" stroke-width="2"/>
<path d="M79.3,268.7 L82.3,272.9 L85.3,268.7 Z" fill="#fff"/>
<text x="72.5" y="268.05" font-size="11" fill="#000" stroke="#000" stroke-width="0.12" text-anchor="start" textLength="20" lengthAdjust="spacingAndGlyphs">JP 6</text>
<rect x="69.2" y="284.5" width="14.3" height="5" fill="#000"/>
<rect x="75" y="285.5" width="2.5" height="3" fill="#fff"/>
<rect x="79.5" y="285.5" width="2.5" height="3" fill="#fff"/>
<rect x="69.2" y="291.4" width="14.3" height="5" fill="#000"/>
<rect x="75" y="292.4" width="2.5" height="3" fill="#fff"/>
<rect x="79.5" y="292.4" width="2.5" height="3" fill="#fff"/>
<rect x="69.2" y="300" width="14.3" height="5" fill="#000"/>
<rect x="75" y="301" width="2.5" height="3" fill="#fff"/>
<rect x="79.5" y="301" width="2.5" height="3" fill="#fff"/>
<rect x="69.2" y="307.4" width="14.3" height="5" fill="#000"/>
<rect x="75" y="308.4" width="2.5" height="3" fill="#fff"/>
<rect x="79.5" y="308.4" width="2.5" height="3" fill="#fff"/>
<line x1="61.7" y1="288.6" x2="70.8" y2="294.4" stroke="#000" stroke-width="1.6"/>
<line x1="62" y1="308" x2="69.7" y2="302" stroke="#000" stroke-width="1.6"/>
<rect x="37.4" y="277" width="25.6" height="11.8" rx="2" fill="#fff" stroke="#000" stroke-width="2"/>
<text x="39" y="286.8" font-size="11" fill="#000" stroke="#000" stroke-width="0.12" text-anchor="start" textLength="22" lengthAdjust="spacing">JP 5</text>
<rect x="37.4" y="307.5" width="25.6" height="12.3" rx="2" fill="#fff" stroke="#000" stroke-width="2"/>
<text x="39" y="317.55" font-size="11" fill="#000" stroke="#000" stroke-width="0.12" text-anchor="start" textLength="22" lengthAdjust="spacing">JP 4</text>
<rect x="61" y="325" width="258" height="13.6" fill="#000"/>
<rect x="62" y="326.4" width="4.6" height="1.4" fill="#fff"/>
<rect x="62" y="329" width="4.6" height="3" fill="#fff"/>
<rect x="62" y="333.2" width="4.6" height="4.1" fill="#fff"/>
<rect x="68" y="326" width="1" height="11.8" fill="#fff"/>
<rect x="70" y="327.4" width="8.5" height="1" fill="#fff"/>
<rect x="70" y="327.4" width="1" height="5.1" fill="#fff"/>
<rect x="77.5" y="327.4" width="1" height="4.1" fill="#fff"/>
<rect x="72" y="332.5" width="6.5" height="1" fill="#fff"/>
<rect x="72" y="332.5" width="1" height="4.6" fill="#fff"/>
<rect x="72" y="336.1" width="6.5" height="1" fill="#fff"/>
<rect x="80" y="326" width="221" height="1" fill="#fff"/>
<rect x="80" y="326" width="1" height="10.3" fill="#fff"/>
<rect x="80" y="335.5" width="221" height="1" fill="#fff"/>
<rect x="300" y="326" width="1" height="10.5" fill="#fff"/>
<rect x="83.8" y="327.6" width="1" height="3.4" fill="#fff"/>
<rect x="85.7" y="327.6" width="1" height="3.4" fill="#fff"/>
<rect x="87.6" y="327.6" width="1" height="3.4" fill="#fff"/>
<rect x="95.8" y="327.6" width="1" height="3.4" fill="#fff"/>
<rect x="97.7" y="327.6" width="1" height="3.4" fill="#fff"/>
<rect x="99.6" y="327.6" width="1" height="3.4" fill="#fff"/>
<rect x="101.5" y="327.6" width="1" height="3.4" fill="#fff"/>
<rect x="103.4" y="327.6" width="1" height="3.4" fill="#fff"/>
<rect x="112.7" y="327.6" width="1" height="3.4" fill="#fff"/>
<rect x="114.6" y="327.6" width="1" height="3.4" fill="#fff"/>
<rect x="116.5" y="327.6" width="1" height="3.4" fill="#fff"/>
<rect x="118.4" y="327.6" width="1" height="3.4" fill="#fff"/>
<rect x="125.6" y="327.6" width="1" height="3.4" fill="#fff"/>
<rect x="127.5" y="327.6" width="1" height="3.4" fill="#fff"/>
<rect x="129.4" y="327.6" width="1" height="3.4" fill="#fff"/>
<rect x="131.3" y="327.6" width="1" height="3.4" fill="#fff"/>
<rect x="142.8" y="327.6" width="1" height="3.4" fill="#fff"/>
<rect x="144.7" y="327.6" width="1" height="3.4" fill="#fff"/>
<rect x="146.6" y="327.6" width="1" height="3.4" fill="#fff"/>
<rect x="157.5" y="327.6" width="1" height="3.4" fill="#fff"/>
<rect x="159.4" y="327.6" width="1" height="3.4" fill="#fff"/>
<rect x="161.3" y="327.6" width="1" height="3.4" fill="#fff"/>
<rect x="221.8" y="327.6" width="1" height="3.4" fill="#fff"/>
<rect x="223.7" y="327.6" width="1" height="3.4" fill="#fff"/>
<rect x="225.6" y="327.6" width="1" height="3.4" fill="#fff"/>
<rect x="227.5" y="327.6" width="1" height="3.4" fill="#fff"/>
<rect x="239" y="327.6" width="1" height="3.4" fill="#fff"/>
<rect x="240.9" y="327.6" width="1" height="3.4" fill="#fff"/>
<rect x="242.8" y="327.6" width="1" height="3.4" fill="#fff"/>
<rect x="253.7" y="327.6" width="1" height="3.4" fill="#fff"/>
<rect x="255.6" y="327.6" width="1" height="3.4" fill="#fff"/>
<rect x="257.5" y="327.6" width="1" height="3.4" fill="#fff"/>
<rect x="259.4" y="327.6" width="1" height="3.4" fill="#fff"/>
<rect x="271" y="327.6" width="1" height="3.4" fill="#fff"/>
<rect x="272.9" y="327.6" width="1" height="3.4" fill="#fff"/>
<rect x="274.8" y="327.6" width="1" height="3.4" fill="#fff"/>
<rect x="276.7" y="327.6" width="1" height="3.4" fill="#fff"/>
<rect x="288" y="327.6" width="1" height="3.4" fill="#fff"/>
<rect x="289.9" y="327.6" width="1" height="3.4" fill="#fff"/>
<rect x="291.8" y="327.6" width="1" height="3.4" fill="#fff"/>
<rect x="293.7" y="327.6" width="1" height="3.4" fill="#fff"/>
<rect x="302.5" y="327.4" width="7" height="1" fill="#fff"/>
<rect x="302.5" y="327.4" width="1" height="6.1" fill="#fff"/>
<rect x="308.5" y="327.4" width="1" height="4.1" fill="#fff"/>
<rect x="303.5" y="333.2" width="6" height="3.4" fill="#fff"/>
<rect x="313.3" y="326.4" width="4.4" height="1.4" fill="#fff"/>
<rect x="313.3" y="329" width="4.4" height="3" fill="#fff"/>
<rect x="313.3" y="333.2" width="4.4" height="4.1" fill="#fff"/>
<rect x="311.5" y="326" width="0.7" height="11.8" fill="#fff"/>
<rect x="61" y="338.6" width="258" height="13.2" fill="#000"/>
<rect x="62" y="340" width="4.6" height="1.4" fill="#fff"/>
<rect x="62" y="342.6" width="4.6" height="3" fill="#fff"/>
<rect x="62" y="346.8" width="4.6" height="3.7" fill="#fff"/>
<rect x="68" y="339.6" width="1" height="11.4" fill="#fff"/>
<rect x="70" y="341" width="8.5" height="1" fill="#fff"/>
<rect x="70" y="341" width="1" height="5.1" fill="#fff"/>
<rect x="77.5" y="341" width="1" height="4.1" fill="#fff"/>
<rect x="72" y="346.1" width="6.5" height="1" fill="#fff"/>
<rect x="72" y="346.1" width="1" height="4.2" fill="#fff"/>
<rect x="72" y="349.3" width="6.5" height="1" fill="#fff"/>
<rect x="80" y="339.6" width="221" height="1" fill="#fff"/>
<rect x="80" y="339.6" width="1" height="10.3" fill="#fff"/>
<rect x="80" y="349.1" width="221" height="1" fill="#fff"/>
<rect x="300" y="339.6" width="1" height="10.5" fill="#fff"/>
<rect x="83.8" y="341.2" width="1" height="3.4" fill="#fff"/>
<rect x="85.7" y="341.2" width="1" height="3.4" fill="#fff"/>
<rect x="87.6" y="341.2" width="1" height="3.4" fill="#fff"/>
<rect x="95.8" y="341.2" width="1" height="3.4" fill="#fff"/>
<rect x="97.7" y="341.2" width="1" height="3.4" fill="#fff"/>
<rect x="99.6" y="341.2" width="1" height="3.4" fill="#fff"/>
<rect x="101.5" y="341.2" width="1" height="3.4" fill="#fff"/>
<rect x="103.4" y="341.2" width="1" height="3.4" fill="#fff"/>
<rect x="112.7" y="341.2" width="1" height="3.4" fill="#fff"/>
<rect x="114.6" y="341.2" width="1" height="3.4" fill="#fff"/>
<rect x="116.5" y="341.2" width="1" height="3.4" fill="#fff"/>
<rect x="118.4" y="341.2" width="1" height="3.4" fill="#fff"/>
<rect x="125.6" y="341.2" width="1" height="3.4" fill="#fff"/>
<rect x="127.5" y="341.2" width="1" height="3.4" fill="#fff"/>
<rect x="129.4" y="341.2" width="1" height="3.4" fill="#fff"/>
<rect x="131.3" y="341.2" width="1" height="3.4" fill="#fff"/>
<rect x="142.8" y="341.2" width="1" height="3.4" fill="#fff"/>
<rect x="144.7" y="341.2" width="1" height="3.4" fill="#fff"/>
<rect x="146.6" y="341.2" width="1" height="3.4" fill="#fff"/>
<rect x="157.5" y="341.2" width="1" height="3.4" fill="#fff"/>
<rect x="159.4" y="341.2" width="1" height="3.4" fill="#fff"/>
<rect x="161.3" y="341.2" width="1" height="3.4" fill="#fff"/>
<rect x="221.8" y="341.2" width="1" height="3.4" fill="#fff"/>
<rect x="223.7" y="341.2" width="1" height="3.4" fill="#fff"/>
<rect x="225.6" y="341.2" width="1" height="3.4" fill="#fff"/>
<rect x="227.5" y="341.2" width="1" height="3.4" fill="#fff"/>
<rect x="239" y="341.2" width="1" height="3.4" fill="#fff"/>
<rect x="240.9" y="341.2" width="1" height="3.4" fill="#fff"/>
<rect x="242.8" y="341.2" width="1" height="3.4" fill="#fff"/>
<rect x="253.7" y="341.2" width="1" height="3.4" fill="#fff"/>
<rect x="255.6" y="341.2" width="1" height="3.4" fill="#fff"/>
<rect x="257.5" y="341.2" width="1" height="3.4" fill="#fff"/>
<rect x="259.4" y="341.2" width="1" height="3.4" fill="#fff"/>
<rect x="271" y="341.2" width="1" height="3.4" fill="#fff"/>
<rect x="272.9" y="341.2" width="1" height="3.4" fill="#fff"/>
<rect x="274.8" y="341.2" width="1" height="3.4" fill="#fff"/>
<rect x="276.7" y="341.2" width="1" height="3.4" fill="#fff"/>
<rect x="288" y="341.2" width="1" height="3.4" fill="#fff"/>
<rect x="289.9" y="341.2" width="1" height="3.4" fill="#fff"/>
<rect x="291.8" y="341.2" width="1" height="3.4" fill="#fff"/>
<rect x="293.7" y="341.2" width="1" height="3.4" fill="#fff"/>
<rect x="302.5" y="341" width="7" height="1" fill="#fff"/>
<rect x="302.5" y="341" width="1" height="6.1" fill="#fff"/>
<rect x="308.5" y="341" width="1" height="4.1" fill="#fff"/>
<rect x="303.5" y="346.8" width="6" height="3" fill="#fff"/>
<rect x="313.3" y="340" width="4.4" height="1.4" fill="#fff"/>
<rect x="313.3" y="342.6" width="4.4" height="3" fill="#fff"/>
<rect x="313.3" y="346.8" width="4.4" height="3.7" fill="#fff"/>
<rect x="311.5" y="339.6" width="0.7" height="11.4" fill="#fff"/>
<rect x="61" y="351.8" width="258" height="13.2" fill="#000"/>
<rect x="62" y="353.2" width="4.6" height="1.4" fill="#fff"/>
<rect x="62" y="355.8" width="4.6" height="3" fill="#fff"/>
<rect x="62" y="360" width="4.6" height="3.7" fill="#fff"/>
<rect x="68" y="352.8" width="1" height="11.4" fill="#fff"/>
<rect x="70" y="354.2" width="8.5" height="1" fill="#fff"/>
<rect x="70" y="354.2" width="1" height="5.1" fill="#fff"/>
<rect x="77.5" y="354.2" width="1" height="4.1" fill="#fff"/>
<rect x="72" y="359.3" width="6.5" height="1" fill="#fff"/>
<rect x="72" y="359.3" width="1" height="4.2" fill="#fff"/>
<rect x="72" y="362.5" width="6.5" height="1" fill="#fff"/>
<rect x="80" y="352.8" width="221" height="1" fill="#fff"/>
<rect x="80" y="352.8" width="1" height="10.3" fill="#fff"/>
<rect x="80" y="362.3" width="221" height="1" fill="#fff"/>
<rect x="300" y="352.8" width="1" height="10.5" fill="#fff"/>
<rect x="83.8" y="354.4" width="1" height="3.4" fill="#fff"/>
<rect x="85.7" y="354.4" width="1" height="3.4" fill="#fff"/>
<rect x="87.6" y="354.4" width="1" height="3.4" fill="#fff"/>
<rect x="95.8" y="354.4" width="1" height="3.4" fill="#fff"/>
<rect x="97.7" y="354.4" width="1" height="3.4" fill="#fff"/>
<rect x="99.6" y="354.4" width="1" height="3.4" fill="#fff"/>
<rect x="101.5" y="354.4" width="1" height="3.4" fill="#fff"/>
<rect x="103.4" y="354.4" width="1" height="3.4" fill="#fff"/>
<rect x="112.7" y="354.4" width="1" height="3.4" fill="#fff"/>
<rect x="114.6" y="354.4" width="1" height="3.4" fill="#fff"/>
<rect x="116.5" y="354.4" width="1" height="3.4" fill="#fff"/>
<rect x="118.4" y="354.4" width="1" height="3.4" fill="#fff"/>
<rect x="125.6" y="354.4" width="1" height="3.4" fill="#fff"/>
<rect x="127.5" y="354.4" width="1" height="3.4" fill="#fff"/>
<rect x="129.4" y="354.4" width="1" height="3.4" fill="#fff"/>
<rect x="131.3" y="354.4" width="1" height="3.4" fill="#fff"/>
<rect x="142.8" y="354.4" width="1" height="3.4" fill="#fff"/>
<rect x="144.7" y="354.4" width="1" height="3.4" fill="#fff"/>
<rect x="146.6" y="354.4" width="1" height="3.4" fill="#fff"/>
<rect x="157.5" y="354.4" width="1" height="3.4" fill="#fff"/>
<rect x="159.4" y="354.4" width="1" height="3.4" fill="#fff"/>
<rect x="161.3" y="354.4" width="1" height="3.4" fill="#fff"/>
<rect x="221.8" y="354.4" width="1" height="3.4" fill="#fff"/>
<rect x="223.7" y="354.4" width="1" height="3.4" fill="#fff"/>
<rect x="225.6" y="354.4" width="1" height="3.4" fill="#fff"/>
<rect x="227.5" y="354.4" width="1" height="3.4" fill="#fff"/>
<rect x="239" y="354.4" width="1" height="3.4" fill="#fff"/>
<rect x="240.9" y="354.4" width="1" height="3.4" fill="#fff"/>
<rect x="242.8" y="354.4" width="1" height="3.4" fill="#fff"/>
<rect x="253.7" y="354.4" width="1" height="3.4" fill="#fff"/>
<rect x="255.6" y="354.4" width="1" height="3.4" fill="#fff"/>
<rect x="257.5" y="354.4" width="1" height="3.4" fill="#fff"/>
<rect x="259.4" y="354.4" width="1" height="3.4" fill="#fff"/>
<rect x="271" y="354.4" width="1" height="3.4" fill="#fff"/>
<rect x="272.9" y="354.4" width="1" height="3.4" fill="#fff"/>
<rect x="274.8" y="354.4" width="1" height="3.4" fill="#fff"/>
<rect x="276.7" y="354.4" width="1" height="3.4" fill="#fff"/>
<rect x="288" y="354.4" width="1" height="3.4" fill="#fff"/>
<rect x="289.9" y="354.4" width="1" height="3.4" fill="#fff"/>
<rect x="291.8" y="354.4" width="1" height="3.4" fill="#fff"/>
<rect x="293.7" y="354.4" width="1" height="3.4" fill="#fff"/>
<rect x="302.5" y="354.2" width="7" height="1" fill="#fff"/>
<rect x="302.5" y="354.2" width="1" height="6.1" fill="#fff"/>
<rect x="308.5" y="354.2" width="1" height="4.1" fill="#fff"/>
<rect x="303.5" y="360" width="6" height="3" fill="#fff"/>
<rect x="313.3" y="353.2" width="4.4" height="1.4" fill="#fff"/>
<rect x="313.3" y="355.8" width="4.4" height="3" fill="#fff"/>
<rect x="313.3" y="360" width="4.4" height="3.7" fill="#fff"/>
<rect x="311.5" y="352.8" width="0.7" height="11.4" fill="#fff"/>
<rect x="89.5" y="336.2" width="210.5" height="0.8" fill="#fff"/>
<rect x="89.5" y="338.2" width="210.5" height="0.6" fill="#fff"/>
<rect x="266" y="331.5" width="2" height="4.5" fill="#fff"/>
<rect x="266" y="345.1" width="2" height="4.5" fill="#fff"/>
<rect x="266" y="358.3" width="2" height="4.5" fill="#fff"/>
<rect x="61" y="367" width="223" height="12.8" fill="#000"/>
<rect x="62" y="368.4" width="4.6" height="1.4" fill="#fff"/>
<rect x="62" y="371" width="4.6" height="3" fill="#fff"/>
<rect x="62" y="375.2" width="4.6" height="3.3" fill="#fff"/>
<rect x="68" y="368" width="1" height="11" fill="#fff"/>
<rect x="70" y="369.4" width="8.5" height="1" fill="#fff"/>
<rect x="70" y="369.4" width="1" height="5.1" fill="#fff"/>
<rect x="77.5" y="369.4" width="1" height="4.1" fill="#fff"/>
<rect x="72" y="374.5" width="6.5" height="1" fill="#fff"/>
<rect x="72" y="374.5" width="1" height="3.8" fill="#fff"/>
<rect x="72" y="377.3" width="6.5" height="1" fill="#fff"/>
<rect x="80" y="368" width="186" height="1" fill="#fff"/>
<rect x="80" y="368" width="1" height="10.3" fill="#fff"/>
<rect x="80" y="377.5" width="186" height="1" fill="#fff"/>
<rect x="265" y="368" width="1" height="10.5" fill="#fff"/>
<rect x="83.8" y="369.6" width="1" height="3.4" fill="#fff"/>
<rect x="85.7" y="369.6" width="1" height="3.4" fill="#fff"/>
<rect x="87.6" y="369.6" width="1" height="3.4" fill="#fff"/>
<rect x="95.8" y="369.6" width="1" height="3.4" fill="#fff"/>
<rect x="97.7" y="369.6" width="1" height="3.4" fill="#fff"/>
<rect x="99.6" y="369.6" width="1" height="3.4" fill="#fff"/>
<rect x="101.5" y="369.6" width="1" height="3.4" fill="#fff"/>
<rect x="103.4" y="369.6" width="1" height="3.4" fill="#fff"/>
<rect x="112.7" y="369.6" width="1" height="3.4" fill="#fff"/>
<rect x="114.6" y="369.6" width="1" height="3.4" fill="#fff"/>
<rect x="116.5" y="369.6" width="1" height="3.4" fill="#fff"/>
<rect x="118.4" y="369.6" width="1" height="3.4" fill="#fff"/>
<rect x="125.6" y="369.6" width="1" height="3.4" fill="#fff"/>
<rect x="127.5" y="369.6" width="1" height="3.4" fill="#fff"/>
<rect x="129.4" y="369.6" width="1" height="3.4" fill="#fff"/>
<rect x="131.3" y="369.6" width="1" height="3.4" fill="#fff"/>
<rect x="142.8" y="369.6" width="1" height="3.4" fill="#fff"/>
<rect x="144.7" y="369.6" width="1" height="3.4" fill="#fff"/>
<rect x="146.6" y="369.6" width="1" height="3.4" fill="#fff"/>
<rect x="157.5" y="369.6" width="1" height="3.4" fill="#fff"/>
<rect x="159.4" y="369.6" width="1" height="3.4" fill="#fff"/>
<rect x="161.3" y="369.6" width="1" height="3.4" fill="#fff"/>
<rect x="196" y="369.6" width="1" height="3.4" fill="#fff"/>
<rect x="197.9" y="369.6" width="1" height="3.4" fill="#fff"/>
<rect x="199.8" y="369.6" width="1" height="3.4" fill="#fff"/>
<rect x="207" y="369.6" width="1" height="3.4" fill="#fff"/>
<rect x="208.9" y="369.6" width="1" height="3.4" fill="#fff"/>
<rect x="210.8" y="369.6" width="1" height="3.4" fill="#fff"/>
<rect x="212.7" y="369.6" width="1" height="3.4" fill="#fff"/>
<rect x="221" y="369.6" width="1" height="3.4" fill="#fff"/>
<rect x="222.9" y="369.6" width="1" height="3.4" fill="#fff"/>
<rect x="224.8" y="369.6" width="1" height="3.4" fill="#fff"/>
<rect x="226.7" y="369.6" width="1" height="3.4" fill="#fff"/>
<rect x="239" y="369.6" width="1" height="3.4" fill="#fff"/>
<rect x="240.9" y="369.6" width="1" height="3.4" fill="#fff"/>
<rect x="242.8" y="369.6" width="1" height="3.4" fill="#fff"/>
<rect x="253" y="369.6" width="1" height="3.4" fill="#fff"/>
<rect x="254.9" y="369.6" width="1" height="3.4" fill="#fff"/>
<rect x="256.8" y="369.6" width="1" height="3.4" fill="#fff"/>
<rect x="258.7" y="369.6" width="1" height="3.4" fill="#fff"/>
<rect x="267.5" y="369.4" width="7" height="1" fill="#fff"/>
<rect x="267.5" y="369.4" width="1" height="6.1" fill="#fff"/>
<rect x="273.5" y="369.4" width="1" height="4.1" fill="#fff"/>
<rect x="268.5" y="375.2" width="6" height="2.6" fill="#fff"/>
<rect x="278.3" y="368.4" width="4.4" height="1.4" fill="#fff"/>
<rect x="278.3" y="371" width="4.4" height="3" fill="#fff"/>
<rect x="278.3" y="375.2" width="4.4" height="3.3" fill="#fff"/>
<rect x="276.5" y="368" width="0.7" height="11" fill="#fff"/>
<rect x="61" y="379.8" width="223" height="12.7" fill="#000"/>
<rect x="62" y="381.2" width="4.6" height="1.4" fill="#fff"/>
<rect x="62" y="383.8" width="4.6" height="3" fill="#fff"/>
<rect x="62" y="388" width="4.6" height="3.2" fill="#fff"/>
<rect x="68" y="380.8" width="1" height="10.9" fill="#fff"/>
<rect x="70" y="382.2" width="8.5" height="1" fill="#fff"/>
<rect x="70" y="382.2" width="1" height="5.1" fill="#fff"/>
<rect x="77.5" y="382.2" width="1" height="4.1" fill="#fff"/>
<rect x="72" y="387.3" width="6.5" height="1" fill="#fff"/>
<rect x="72" y="387.3" width="1" height="3.7" fill="#fff"/>
<rect x="72" y="390" width="6.5" height="1" fill="#fff"/>
<rect x="80" y="380.8" width="186" height="1" fill="#fff"/>
<rect x="80" y="380.8" width="1" height="10.3" fill="#fff"/>
<rect x="80" y="390.3" width="186" height="1" fill="#fff"/>
<rect x="265" y="380.8" width="1" height="10.5" fill="#fff"/>
<rect x="83.8" y="382.4" width="1" height="3.4" fill="#fff"/>
<rect x="85.7" y="382.4" width="1" height="3.4" fill="#fff"/>
<rect x="87.6" y="382.4" width="1" height="3.4" fill="#fff"/>
<rect x="95.8" y="382.4" width="1" height="3.4" fill="#fff"/>
<rect x="97.7" y="382.4" width="1" height="3.4" fill="#fff"/>
<rect x="99.6" y="382.4" width="1" height="3.4" fill="#fff"/>
<rect x="101.5" y="382.4" width="1" height="3.4" fill="#fff"/>
<rect x="103.4" y="382.4" width="1" height="3.4" fill="#fff"/>
<rect x="112.7" y="382.4" width="1" height="3.4" fill="#fff"/>
<rect x="114.6" y="382.4" width="1" height="3.4" fill="#fff"/>
<rect x="116.5" y="382.4" width="1" height="3.4" fill="#fff"/>
<rect x="118.4" y="382.4" width="1" height="3.4" fill="#fff"/>
<rect x="125.6" y="382.4" width="1" height="3.4" fill="#fff"/>
<rect x="127.5" y="382.4" width="1" height="3.4" fill="#fff"/>
<rect x="129.4" y="382.4" width="1" height="3.4" fill="#fff"/>
<rect x="131.3" y="382.4" width="1" height="3.4" fill="#fff"/>
<rect x="142.8" y="382.4" width="1" height="3.4" fill="#fff"/>
<rect x="144.7" y="382.4" width="1" height="3.4" fill="#fff"/>
<rect x="146.6" y="382.4" width="1" height="3.4" fill="#fff"/>
<rect x="157.5" y="382.4" width="1" height="3.4" fill="#fff"/>
<rect x="159.4" y="382.4" width="1" height="3.4" fill="#fff"/>
<rect x="161.3" y="382.4" width="1" height="3.4" fill="#fff"/>
<rect x="196" y="382.4" width="1" height="3.4" fill="#fff"/>
<rect x="197.9" y="382.4" width="1" height="3.4" fill="#fff"/>
<rect x="199.8" y="382.4" width="1" height="3.4" fill="#fff"/>
<rect x="207" y="382.4" width="1" height="3.4" fill="#fff"/>
<rect x="208.9" y="382.4" width="1" height="3.4" fill="#fff"/>
<rect x="210.8" y="382.4" width="1" height="3.4" fill="#fff"/>
<rect x="212.7" y="382.4" width="1" height="3.4" fill="#fff"/>
<rect x="221" y="382.4" width="1" height="3.4" fill="#fff"/>
<rect x="222.9" y="382.4" width="1" height="3.4" fill="#fff"/>
<rect x="224.8" y="382.4" width="1" height="3.4" fill="#fff"/>
<rect x="226.7" y="382.4" width="1" height="3.4" fill="#fff"/>
<rect x="239" y="382.4" width="1" height="3.4" fill="#fff"/>
<rect x="240.9" y="382.4" width="1" height="3.4" fill="#fff"/>
<rect x="242.8" y="382.4" width="1" height="3.4" fill="#fff"/>
<rect x="253" y="382.4" width="1" height="3.4" fill="#fff"/>
<rect x="254.9" y="382.4" width="1" height="3.4" fill="#fff"/>
<rect x="256.8" y="382.4" width="1" height="3.4" fill="#fff"/>
<rect x="258.7" y="382.4" width="1" height="3.4" fill="#fff"/>
<rect x="267.5" y="382.2" width="7" height="1" fill="#fff"/>
<rect x="267.5" y="382.2" width="1" height="6.1" fill="#fff"/>
<rect x="273.5" y="382.2" width="1" height="4.1" fill="#fff"/>
<rect x="268.5" y="388" width="6" height="2.5" fill="#fff"/>
<rect x="278.3" y="381.2" width="4.4" height="1.4" fill="#fff"/>
<rect x="278.3" y="383.8" width="4.4" height="3" fill="#fff"/>
<rect x="278.3" y="388" width="4.4" height="3.2" fill="#fff"/>
<rect x="276.5" y="380.8" width="0.7" height="10.9" fill="#fff"/>
<rect x="168" y="324.1" width="43.4" height="40" rx="2" fill="#fff" stroke="#000" stroke-width="2"/>
<rect x="168" y="337.6" width="44" height="1.8" fill="#000"/>
<rect x="168" y="350.8" width="44" height="1.8" fill="#000"/>
<text x="170.5" y="335.2" font-size="11" fill="#000" stroke="#000" stroke-width="0.12" text-anchor="start" textLength="39" lengthAdjust="spacingAndGlyphs">BANK 1</text>
<text x="170.5" y="348.4" font-size="11" fill="#000" stroke="#000" stroke-width="0.12" text-anchor="start" textLength="39" lengthAdjust="spacingAndGlyphs">BANK 2</text>
<text x="170.5" y="361.6" font-size="11" fill="#000" stroke="#000" stroke-width="0.12" text-anchor="start" textLength="39" lengthAdjust="spacingAndGlyphs">BANK 3</text>
<rect x="150.3" y="374.3" width="42.9" height="10.9" rx="2" fill="#fff" stroke="#000" stroke-width="1.2"/>
<text x="152.6" y="383.85" font-size="11" fill="#000" stroke="#000" stroke-width="0.12" text-anchor="start" textLength="38.4" lengthAdjust="spacingAndGlyphs">BANK 0</text>
<rect x="168.6" y="387.5" width="7.4" height="4" fill="#fff"/>
<rect x="169.2" y="369.2" width="5.2" height="2.3" fill="#fff"/>
<line x1="75.1" y1="321.3" x2="76.6" y2="312.7" stroke="#000" stroke-width="1.7"/>
<line x1="75.01" y1="321.79" x2="76" y2="316.14" stroke="#000" stroke-width="3.2"/>
<path d="M80.1,326.3 L76.7,320.8 L73.5,320.8 L70.1,326.3 Z" fill="#000"/>
<rect x="64.3" y="326.3" width="21.6" height="11.8" rx="2" fill="#fff" stroke="#000" stroke-width="2"/>
<path d="M78.1,327.3 L75.1,323.1 L72.1,327.3 Z" fill="#fff"/>
<text x="65.5" y="336.1" font-size="11" fill="#000" stroke="#000" stroke-width="0.12" text-anchor="start" textLength="19" lengthAdjust="spacingAndGlyphs">JP 3</text>
<rect x="322.2" y="296.8" width="121.8" height="15" fill="#000"/>
<rect x="326.7" y="302.3" width="42.3" height="4.7" fill="#fff"/>
<rect x="396" y="302" width="6.2" height="4.8" fill="#fff"/>
<rect x="409" y="302.3" width="29.2" height="4.7" fill="#fff"/>
<rect x="371.4" y="299.5" width="22.6" height="10" rx="1" fill="#fff" stroke="#000" stroke-width="1"/>
<text x="372.5" y="308.2" font-size="10.5" fill="#000" stroke="#000" stroke-width="0.12" text-anchor="start" textLength="20.5" lengthAdjust="spacingAndGlyphs">AGP</text>
<rect x="388" y="331" width="95" height="11" fill="#000"/>
<rect x="389" y="332" width="1" height="8.5" fill="#fff"/>
<rect x="389" y="336" width="93" height="1" fill="#fff"/>
<rect x="389" y="340" width="93" height="1" fill="#fff"/>
<rect x="393.5" y="332" width="1" height="9" fill="#fff"/>
<rect x="398.2" y="332" width="1" height="9" fill="#fff"/>
<rect x="402.9" y="332" width="1" height="9" fill="#fff"/>
<rect x="407.6" y="332" width="1" height="9" fill="#fff"/>
<rect x="412.3" y="332" width="1" height="9" fill="#fff"/>
<rect x="417" y="332" width="1" height="9" fill="#fff"/>
<rect x="421.7" y="332" width="1" height="9" fill="#fff"/>
<rect x="426.4" y="332" width="1" height="9" fill="#fff"/>
<rect x="431.1" y="332" width="1" height="9" fill="#fff"/>
<rect x="435.8" y="332" width="1" height="9" fill="#fff"/>
<rect x="440.5" y="332" width="1" height="9" fill="#fff"/>
<rect x="445.2" y="332" width="1" height="9" fill="#fff"/>
<rect x="449.9" y="332" width="1" height="9" fill="#fff"/>
<rect x="454.6" y="332" width="1" height="9" fill="#fff"/>
<rect x="459.3" y="332" width="1" height="9" fill="#fff"/>
<rect x="464" y="332" width="1" height="9" fill="#fff"/>
<rect x="468.7" y="332" width="1" height="9" fill="#fff"/>
<rect x="473.4" y="332" width="1" height="9" fill="#fff"/>
<rect x="478.1" y="332" width="1" height="9" fill="#fff"/>
<rect x="388" y="348" width="95" height="11" fill="#000"/>
<rect x="389" y="349" width="1" height="8.5" fill="#fff"/>
<rect x="389" y="353" width="93" height="1" fill="#fff"/>
<rect x="393.5" y="349" width="1" height="9" fill="#fff"/>
<rect x="398.2" y="349" width="1" height="9" fill="#fff"/>
<rect x="402.9" y="349" width="1" height="9" fill="#fff"/>
<rect x="407.6" y="349" width="1" height="9" fill="#fff"/>
<rect x="412.3" y="349" width="1" height="9" fill="#fff"/>
<rect x="417" y="349" width="1" height="9" fill="#fff"/>
<rect x="421.7" y="349" width="1" height="9" fill="#fff"/>
<rect x="426.4" y="349" width="1" height="9" fill="#fff"/>
<rect x="431.1" y="349" width="1" height="9" fill="#fff"/>
<rect x="435.8" y="349" width="1" height="9" fill="#fff"/>
<rect x="440.5" y="349" width="1" height="9" fill="#fff"/>
<rect x="445.2" y="349" width="1" height="9" fill="#fff"/>
<rect x="449.9" y="349" width="1" height="9" fill="#fff"/>
<rect x="454.6" y="349" width="1" height="9" fill="#fff"/>
<rect x="459.3" y="349" width="1" height="9" fill="#fff"/>
<rect x="464" y="349" width="1" height="9" fill="#fff"/>
<rect x="468.7" y="349" width="1" height="9" fill="#fff"/>
<rect x="473.4" y="349" width="1" height="9" fill="#fff"/>
<rect x="478.1" y="349" width="1" height="9" fill="#fff"/>
<rect x="352" y="367.4" width="81" height="10.6" fill="#000"/>
<rect x="353" y="368.4" width="1" height="8.1" fill="#fff"/>
<rect x="353" y="372.4" width="79" height="1" fill="#fff"/>
<rect x="353" y="376" width="79" height="1" fill="#fff"/>
<rect x="357.5" y="368.4" width="1" height="8.6" fill="#fff"/>
<rect x="362.2" y="368.4" width="1" height="8.6" fill="#fff"/>
<rect x="366.9" y="368.4" width="1" height="8.6" fill="#fff"/>
<rect x="371.6" y="368.4" width="1" height="8.6" fill="#fff"/>
<rect x="376.3" y="368.4" width="1" height="8.6" fill="#fff"/>
<rect x="381" y="368.4" width="1" height="8.6" fill="#fff"/>
<rect x="385.7" y="368.4" width="1" height="8.6" fill="#fff"/>
<rect x="390.4" y="368.4" width="1" height="8.6" fill="#fff"/>
<rect x="395.1" y="368.4" width="1" height="8.6" fill="#fff"/>
<rect x="399.8" y="368.4" width="1" height="8.6" fill="#fff"/>
<rect x="404.5" y="368.4" width="1" height="8.6" fill="#fff"/>
<rect x="409.2" y="368.4" width="1" height="8.6" fill="#fff"/>
<rect x="413.9" y="368.4" width="1" height="8.6" fill="#fff"/>
<rect x="418.6" y="368.4" width="1" height="8.6" fill="#fff"/>
<rect x="423.3" y="368.4" width="1" height="8.6" fill="#fff"/>
<rect x="428" y="368.4" width="1" height="8.6" fill="#fff"/>
<rect x="440.3" y="367.4" width="62.5" height="10.6" fill="#000"/>
<rect x="441.3" y="368.4" width="1" height="8.1" fill="#fff"/>
<rect x="441.3" y="372.4" width="60.5" height="1" fill="#fff"/>
<rect x="441.3" y="376" width="60.5" height="1" fill="#fff"/>
<rect x="445.8" y="368.4" width="1" height="8.6" fill="#fff"/>
<rect x="450.5" y="368.4" width="1" height="8.6" fill="#fff"/>
<rect x="455.2" y="368.4" width="1" height="8.6" fill="#fff"/>
<rect x="459.9" y="368.4" width="1" height="8.6" fill="#fff"/>
<rect x="464.6" y="368.4" width="1" height="8.6" fill="#fff"/>
<rect x="469.3" y="368.4" width="1" height="8.6" fill="#fff"/>
<rect x="474" y="368.4" width="1" height="8.6" fill="#fff"/>
<rect x="478.7" y="368.4" width="1" height="8.6" fill="#fff"/>
<rect x="483.4" y="368.4" width="1" height="8.6" fill="#fff"/>
<rect x="488.1" y="368.4" width="1" height="8.6" fill="#fff"/>
<rect x="492.8" y="368.4" width="1" height="8.6" fill="#fff"/>
<rect x="497.5" y="368.4" width="1" height="8.6" fill="#fff"/>
<line x1="490.5" y1="335.3" x2="483" y2="335.5" stroke="#000" stroke-width="1.7"/>
<line x1="491" y1="335.29" x2="486" y2="335.42" stroke="#000" stroke-width="3.2"/>
<path d="M495.5,330.3 L490,333.7 L490,336.9 L495.5,340.3 Z" fill="#000"/>
<rect x="495.5" y="329.4" width="27.5" height="11.8" rx="2" fill="#fff" stroke="#000" stroke-width="2"/>
<path d="M496.5,332.3 L492.3,335.3 L496.5,338.3 Z" fill="#fff"/>
<text x="500" y="339.2" font-size="11" fill="#000" stroke="#000" stroke-width="0.12" text-anchor="start" textLength="19.3" lengthAdjust="spacingAndGlyphs">CN1</text>
<line x1="490.5" y1="353.75" x2="483" y2="353.5" stroke="#000" stroke-width="1.7"/>
<line x1="491" y1="353.77" x2="486" y2="353.6" stroke="#000" stroke-width="3.2"/>
<path d="M495.5,348.75 L490,352.15 L490,355.35 L495.5,358.75 Z" fill="#000"/>
<rect x="495.5" y="348" width="27.5" height="11.5" rx="2" fill="#fff" stroke="#000" stroke-width="2"/>
<path d="M496.5,350.75 L492.3,353.75 L496.5,356.75 Z" fill="#fff"/>
<text x="500" y="357.65" font-size="11" fill="#000" stroke="#000" stroke-width="0.12" text-anchor="start" textLength="19.3" lengthAdjust="spacingAndGlyphs">CN2</text>
<rect x="521" y="318" width="20.3" height="90" fill="#000"/>
<rect x="522.2" y="319" width="1.6" height="88" fill="#fff"/>
<rect x="533" y="319" width="1.2" height="88" fill="#fff"/>
<rect x="535.5" y="319" width="4.8" height="88" fill="#fff"/>
<rect x="524.6" y="322.8" width="4.8" height="4.6" fill="#fff"/>
<rect x="523.8" y="328.4" width="5.6" height="1" fill="#fff"/>
<rect x="529.4" y="325" width="3.6" height="1" fill="#fff"/>
<rect x="535.7" y="323.4" width="0.9" height="4.6" fill="#000"/>
<rect x="535.7" y="325" width="2.6" height="1" fill="#000"/>
<rect x="524.6" y="330.27" width="4.8" height="4.6" fill="#fff"/>
<rect x="523.8" y="335.87" width="5.6" height="1" fill="#fff"/>
<rect x="529.4" y="332.47" width="3.6" height="1" fill="#fff"/>
<rect x="535.7" y="330.87" width="0.9" height="4.6" fill="#000"/>
<rect x="535.7" y="332.47" width="2.6" height="1" fill="#000"/>
<rect x="524.6" y="337.74" width="4.8" height="4.6" fill="#fff"/>
<rect x="523.8" y="343.34" width="5.6" height="1" fill="#fff"/>
<rect x="529.4" y="339.94" width="3.6" height="1" fill="#fff"/>
<rect x="535.7" y="338.34" width="0.9" height="4.6" fill="#000"/>
<rect x="535.7" y="339.94" width="2.6" height="1" fill="#000"/>
<rect x="524.6" y="345.21" width="4.8" height="4.6" fill="#fff"/>
<rect x="523.8" y="350.81" width="5.6" height="1" fill="#fff"/>
<rect x="529.4" y="347.41" width="3.6" height="1" fill="#fff"/>
<rect x="535.7" y="345.81" width="0.9" height="4.6" fill="#000"/>
<rect x="535.7" y="347.41" width="2.6" height="1" fill="#000"/>
<rect x="524.6" y="352.68" width="4.8" height="4.6" fill="#fff"/>
<rect x="523.8" y="358.28" width="5.6" height="1" fill="#fff"/>
<rect x="529.4" y="354.88" width="3.6" height="1" fill="#fff"/>
<rect x="535.7" y="353.28" width="0.9" height="4.6" fill="#000"/>
<rect x="535.7" y="354.88" width="2.6" height="1" fill="#000"/>
<rect x="524.6" y="360.15" width="4.8" height="4.6" fill="#fff"/>
<rect x="523.8" y="365.75" width="5.6" height="1" fill="#fff"/>
<rect x="529.4" y="362.35" width="3.6" height="1" fill="#fff"/>
<rect x="535.7" y="360.75" width="0.9" height="4.6" fill="#000"/>
<rect x="535.7" y="362.35" width="2.6" height="1" fill="#000"/>
<rect x="524.6" y="367.62" width="4.8" height="4.6" fill="#fff"/>
<rect x="523.8" y="373.22" width="5.6" height="1" fill="#fff"/>
<rect x="529.4" y="369.82" width="3.6" height="1" fill="#fff"/>
<rect x="535.7" y="368.22" width="0.9" height="4.6" fill="#000"/>
<rect x="535.7" y="369.82" width="2.6" height="1" fill="#000"/>
<rect x="524.6" y="375.09" width="4.8" height="4.6" fill="#fff"/>
<rect x="523.8" y="380.69" width="5.6" height="1" fill="#fff"/>
<rect x="529.4" y="377.29" width="3.6" height="1" fill="#fff"/>
<rect x="535.7" y="375.69" width="0.9" height="4.6" fill="#000"/>
<rect x="535.7" y="377.29" width="2.6" height="1" fill="#000"/>
<rect x="524.6" y="382.56" width="4.8" height="4.6" fill="#fff"/>
<rect x="523.8" y="388.16" width="5.6" height="1" fill="#fff"/>
<rect x="529.4" y="384.76" width="3.6" height="1" fill="#fff"/>
<rect x="535.7" y="383.16" width="0.9" height="4.6" fill="#000"/>
<rect x="535.7" y="384.76" width="2.6" height="1" fill="#000"/>
<rect x="524.6" y="390.03" width="4.8" height="4.6" fill="#fff"/>
<rect x="523.8" y="395.63" width="5.6" height="1" fill="#fff"/>
<rect x="529.4" y="392.23" width="3.6" height="1" fill="#fff"/>
<rect x="535.7" y="390.63" width="0.9" height="4.6" fill="#000"/>
<rect x="535.7" y="392.23" width="2.6" height="1" fill="#000"/>
<rect x="524.6" y="397.5" width="4.8" height="4.6" fill="#fff"/>
<rect x="523.8" y="403.1" width="5.6" height="1" fill="#fff"/>
<rect x="529.4" y="399.7" width="3.6" height="1" fill="#fff"/>
<rect x="535.7" y="398.1" width="0.9" height="4.6" fill="#000"/>
<rect x="535.7" y="399.7" width="2.6" height="1" fill="#000"/>
<rect x="558" y="321" width="11.1" height="19.8" fill="#000"/>
<rect x="558.9" y="322" width="0.9" height="18" fill="#fff"/>
<rect x="563" y="322" width="0.9" height="18" fill="#fff"/>
<rect x="559" y="322" width="9.2" height="0.9" fill="#fff"/>
<rect x="559" y="326.3" width="9.2" height="0.9" fill="#fff"/>
<rect x="559" y="331" width="9.2" height="0.9" fill="#fff"/>
<rect x="559" y="336" width="9.2" height="0.9" fill="#fff"/>
<line x1="577.5" y1="330.3" x2="569" y2="330" stroke="#000" stroke-width="1.7"/>
<line x1="578" y1="330.32" x2="572.4" y2="330.12" stroke="#000" stroke-width="3.2"/>
<path d="M582.5,325.3 L577,328.7 L577,331.9 L582.5,335.3 Z" fill="#000"/>
<rect x="582.5" y="324.4" width="26.3" height="11.8" rx="2" fill="#fff" stroke="#000" stroke-width="2"/>
<path d="M583.5,327.3 L579.3,330.3 L583.5,333.3 Z" fill="#fff"/>
<text x="585" y="334.2" font-size="11" fill="#000" stroke="#000" stroke-width="0.12" text-anchor="start" textLength="21" lengthAdjust="spacingAndGlyphs">CN7</text>
<path d="M550.3,365 H553 V360 H572.3 V357.1 H574.4 V355 H578 V396 H574.4 V393.8 H572.3 V389.7 H553 V385 H550.3 Z" fill="#000"/>
<rect x="547.7" y="367.5" width="3.6" height="5.5" fill="#fff" stroke="#000" stroke-width="1"/>
<rect x="547.7" y="376.9" width="3.6" height="5.5" fill="#fff" stroke="#000" stroke-width="1"/>
<rect x="551.7" y="373.2" width="1.1" height="3.2" fill="#fff"/>
<line x1="508.4" y1="372.8" x2="503" y2="373" stroke="#000" stroke-width="1.7"/>
<line x1="508.9" y1="372.78" x2="505.16" y2="372.92" stroke="#000" stroke-width="3.2"/>
<path d="M513.4,367.8 L507.9,371.2 L507.9,374.4 L513.4,377.8 Z" fill="#000"/>
<rect x="513.4" y="366.6" width="28.2" height="12.4" rx="2" fill="#fff" stroke="#000" stroke-width="2"/>
<path d="M514.4,369.8 L510.2,372.8 L514.4,375.8 Z" fill="#fff"/>
<text x="518.6" y="376.7" font-size="11" fill="#000" stroke="#000" stroke-width="0.12" text-anchor="start" textLength="20.6" lengthAdjust="spacingAndGlyphs">CN3</text>
<line x1="398.8" y1="387" x2="399" y2="378" stroke="#000" stroke-width="1.7"/>
<line x1="398.79" y1="387.5" x2="398.92" y2="381.6" stroke="#000" stroke-width="3.2"/>
<path d="M403.8,392 L400.4,386.5 L397.2,386.5 L393.8,392 Z" fill="#000"/>
<rect x="387.6" y="392" width="22.4" height="11.6" rx="2" fill="#fff" stroke="#000" stroke-width="2"/>
<path d="M401.8,393 L398.8,388.8 L395.8,393 Z" fill="#fff"/>
<text x="389" y="401.7" font-size="11" fill="#000" stroke="#000" stroke-width="0.12" text-anchor="start" textLength="19.5" lengthAdjust="spacingAndGlyphs">CN6</text>
<rect x="444.7" y="383.9" width="25.1" height="10.9" fill="#000"/>
<rect x="446.2" y="389" width="22.1" height="1" fill="#fff"/>
<rect x="450.2" y="384.9" width="1" height="8.7" fill="#fff"/>
<rect x="459.4" y="384.9" width="1" height="8.7" fill="#fff"/>
<rect x="464" y="384.9" width="1" height="8.7" fill="#fff"/>
<rect x="478" y="383.9" width="24.8" height="10.9" fill="#000"/>
<rect x="479.5" y="389" width="21.8" height="1" fill="#fff"/>
<rect x="483.5" y="384.9" width="1" height="8.7" fill="#fff"/>
<rect x="492.7" y="384.9" width="1" height="8.7" fill="#fff"/>
<rect x="497.3" y="384.9" width="1" height="8.7" fill="#fff"/>
<line x1="456.5" y1="404.1" x2="457" y2="394.8" stroke="#000" stroke-width="1.7"/>
<line x1="456.47" y1="404.6" x2="456.8" y2="398.52" stroke="#000" stroke-width="3.2"/>
<path d="M461.5,409.1 L458.1,403.6 L454.9,403.6 L451.5,409.1 Z" fill="#000"/>
<rect x="444.2" y="409.1" width="24.6" height="12.2" rx="2" fill="#fff" stroke="#000" stroke-width="2"/>
<path d="M459.5,410.1 L456.5,405.9 L453.5,410.1 Z" fill="#fff"/>
<text x="445.5" y="419.1" font-size="11" fill="#000" stroke="#000" stroke-width="0.12" text-anchor="start" textLength="22" lengthAdjust="spacingAndGlyphs">CN5</text>
<line x1="491.2" y1="404.1" x2="491" y2="394.8" stroke="#000" stroke-width="1.7"/>
<line x1="491.21" y1="404.6" x2="491.08" y2="398.52" stroke="#000" stroke-width="3.2"/>
<path d="M496.2,409.1 L492.8,403.6 L489.6,403.6 L486.2,409.1 Z" fill="#000"/>
<rect x="478.2" y="409.1" width="26" height="12.2" rx="2" fill="#fff" stroke="#000" stroke-width="2"/>
<path d="M494.2,410.1 L491.2,405.9 L488.2,410.1 Z" fill="#fff"/>
<text x="479.5" y="419.1" font-size="11" fill="#000" stroke="#000" stroke-width="0.12" text-anchor="start" textLength="22.5" lengthAdjust="spacing">CN4</text>
<rect x="357.2" y="350" width="14.8" height="5.7" fill="#000"/>
<rect x="362" y="351" width="2" height="3.7" fill="#fff"/>
<rect x="366" y="351" width="2" height="3.7" fill="#fff"/>
<line x1="364.9" y1="341" x2="364" y2="350" stroke="#000" stroke-width="1.7"/>
<line x1="364.95" y1="340.5" x2="364.36" y2="346.4" stroke="#000" stroke-width="3.2"/>
<path d="M359.9,336 L363.3,341.5 L366.5,341.5 L369.9,336 Z" fill="#000"/>
<rect x="355.9" y="324.3" width="18" height="11.7" rx="3" fill="#fff" stroke="#000" stroke-width="2"/>
<path d="M361.9,335 L364.9,339.2 L367.9,335 Z" fill="#fff"/>
<text x="358" y="334.05" font-size="11" fill="#000" stroke="#000" stroke-width="0.12" text-anchor="start" textLength="13" lengthAdjust="spacing">J1</text>
<rect x="297.3" y="369" width="12.7" height="5" fill="#000"/>
<rect x="302" y="370" width="2" height="3" fill="#fff"/>
<rect x="305.5" y="370" width="2" height="3" fill="#fff"/>
<rect x="297.3" y="377.5" width="12.7" height="4.8" fill="#000"/>
<rect x="302" y="378.5" width="2" height="2.8" fill="#fff"/>
<rect x="305.5" y="378.5" width="2" height="2.8" fill="#fff"/>
<line x1="310" y1="370.5" x2="319" y2="364" stroke="#000" stroke-width="1.6"/>
<rect x="317" y="353.7" width="23.5" height="11.8" rx="2" fill="#fff" stroke="#000" stroke-width="2"/>
<text x="318.5" y="363.5" font-size="11" fill="#000" stroke="#000" stroke-width="0.12" text-anchor="start" textLength="20.5" lengthAdjust="spacingAndGlyphs">JP 2</text>
<line x1="317.9" y1="379.85" x2="310" y2="380" stroke="#000" stroke-width="1.7"/>
<line x1="318.4" y1="379.84" x2="313.16" y2="379.94" stroke="#000" stroke-width="3.2"/>
<path d="M322.9,374.85 L317.4,378.25 L317.4,381.45 L322.9,384.85 Z" fill="#000"/>
<rect x="322.9" y="374" width="24.5" height="11.7" rx="2" fill="#fff" stroke="#000" stroke-width="2"/>
<path d="M323.9,376.85 L319.7,379.85 L323.9,382.85 Z" fill="#fff"/>
<text x="325" y="383.75" font-size="11" fill="#000" stroke="#000" stroke-width="0.12" text-anchor="start" textLength="21" lengthAdjust="spacingAndGlyphs">JP 1</text>
<rect x="297.7" y="386.9" width="80.8" height="18.6" fill="#fff" stroke="#000" stroke-width="1.2"/>
<rect x="301.8" y="390.2" width="4.6" height="4.6" fill="none" stroke="#000" stroke-width="1"/>
<rect x="301.8" y="397.6" width="4.6" height="4.6" fill="none" stroke="#000" stroke-width="1"/>
<rect x="309.4" y="390.2" width="4.6" height="4.6" fill="none" stroke="#000" stroke-width="1"/>
<rect x="309.4" y="397.6" width="4.6" height="4.6" fill="none" stroke="#000" stroke-width="1"/>
<rect x="317.0" y="390.2" width="4.6" height="4.6" fill="none" stroke="#000" stroke-width="1"/>
<rect x="317.0" y="397.6" width="4.6" height="4.6" fill="none" stroke="#000" stroke-width="1"/>
<rect x="324.6" y="390.2" width="4.6" height="4.6" fill="none" stroke="#000" stroke-width="1"/>
<rect x="324.6" y="397.6" width="4.6" height="4.6" fill="none" stroke="#000" stroke-width="1"/>
<rect x="332.2" y="390.2" width="4.6" height="4.6" fill="none" stroke="#000" stroke-width="1"/>
<rect x="332.2" y="397.6" width="4.6" height="4.6" fill="none" stroke="#000" stroke-width="1"/>
<rect x="339.8" y="390.2" width="4.6" height="4.6" fill="none" stroke="#000" stroke-width="1"/>
<rect x="339.8" y="397.6" width="4.6" height="4.6" fill="none" stroke="#000" stroke-width="1"/>
<rect x="347.4" y="390.2" width="4.6" height="4.6" fill="none" stroke="#000" stroke-width="1"/>
<rect x="347.4" y="397.6" width="4.6" height="4.6" fill="none" stroke="#000" stroke-width="1"/>
<rect x="355.0" y="390.2" width="4.6" height="4.6" fill="none" stroke="#000" stroke-width="1"/>
<rect x="355.0" y="397.6" width="4.6" height="4.6" fill="none" stroke="#000" stroke-width="1"/>
<rect x="362.6" y="390.2" width="4.6" height="4.6" fill="none" stroke="#000" stroke-width="1"/>
<rect x="362.6" y="397.6" width="4.6" height="4.6" fill="none" stroke="#000" stroke-width="1"/>
<rect x="370.2" y="390.2" width="4.6" height="4.6" fill="none" stroke="#000" stroke-width="1"/>
<rect x="370.2" y="397.6" width="4.6" height="4.6" fill="none" stroke="#000" stroke-width="1"/>
<line x1="335.9" y1="416.2" x2="336" y2="405.8" stroke="#000" stroke-width="1.7"/>
<line x1="335.9" y1="416.7" x2="335.96" y2="410.2" stroke="#000" stroke-width="3.2"/>
<path d="M340.9,421.2 L337.5,415.7 L334.3,415.7 L330.9,421.2 Z" fill="#000"/>
<rect x="324.5" y="421.2" width="22.8" height="10.6" rx="2" fill="#fff" stroke="#000" stroke-width="2"/>
<path d="M338.9,422.2 L335.9,418 L332.9,422.2 Z" fill="#fff"/>
<text x="326" y="430.4" font-size="11" fill="#000" stroke="#000" stroke-width="0.12" text-anchor="start" textLength="20" lengthAdjust="spacingAndGlyphs">ATX</text>
</svg></body></html>
